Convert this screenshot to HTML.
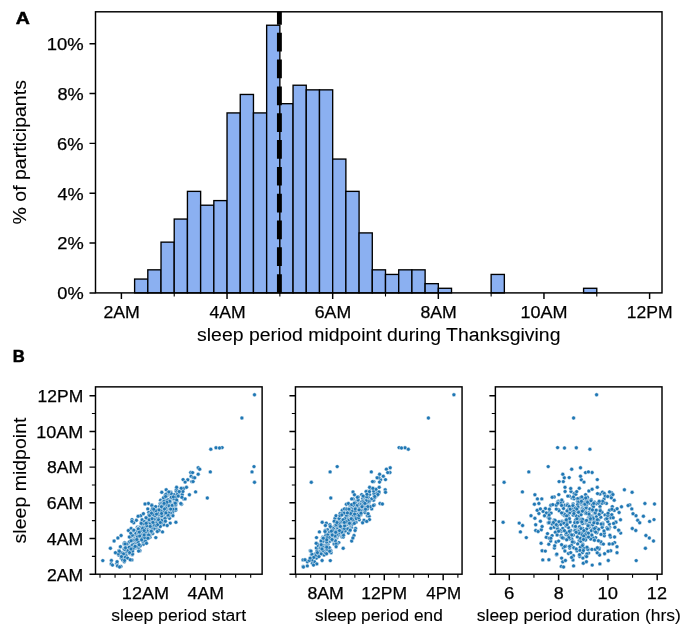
<!DOCTYPE html>
<html><head><meta charset="utf-8"><title>Sleep period midpoint during Thanksgiving</title>
<style>html,body{margin:0;padding:0;background:#fff}body{width:685px;height:624px;overflow:hidden}</style></head>
<body>
<svg width="685" height="624" viewBox="0 0 685 624" style="display:block;will-change:transform;font-family:'Liberation Sans',sans-serif" fill="#000">
<rect width="685" height="624" fill="#fff"/>
<g fill="#8bb0f1" stroke="#000" stroke-width="1.35" stroke-linejoin="miter">
<rect x="134.61" y="279.06" width="13.20" height="13.84"/>
<rect x="147.81" y="269.83" width="13.21" height="23.07"/>
<rect x="161.02" y="242.14" width="13.20" height="50.76"/>
<rect x="174.22" y="219.06" width="13.21" height="73.84"/>
<rect x="187.43" y="191.37" width="13.20" height="101.53"/>
<rect x="200.63" y="205.22" width="13.21" height="87.68"/>
<rect x="213.84" y="200.60" width="13.21" height="92.30"/>
<rect x="227.04" y="112.92" width="13.20" height="179.98"/>
<rect x="240.25" y="94.46" width="13.21" height="198.44"/>
<rect x="253.45" y="112.92" width="13.20" height="179.98"/>
<rect x="266.65" y="25.24" width="13.21" height="267.66"/>
<rect x="279.86" y="103.69" width="13.20" height="189.21"/>
<rect x="293.06" y="85.23" width="13.20" height="207.67"/>
<rect x="306.27" y="89.85" width="13.21" height="203.05"/>
<rect x="319.48" y="89.85" width="13.20" height="203.05"/>
<rect x="332.68" y="159.07" width="13.20" height="133.83"/>
<rect x="345.88" y="191.37" width="13.21" height="101.53"/>
<rect x="359.09" y="232.91" width="13.20" height="59.99"/>
<rect x="372.30" y="269.83" width="13.20" height="23.07"/>
<rect x="385.50" y="274.44" width="13.21" height="18.46"/>
<rect x="398.71" y="269.83" width="13.20" height="23.07"/>
<rect x="411.91" y="269.83" width="13.21" height="23.07"/>
<rect x="425.12" y="283.67" width="13.21" height="9.23"/>
<rect x="438.32" y="288.29" width="13.20" height="4.61"/>
<rect x="491.14" y="274.44" width="13.21" height="18.46"/>
<rect x="583.58" y="288.29" width="13.20" height="4.61"/>
</g>
<line x1="279.4" y1="292.9" x2="279.4" y2="11.8" stroke="#000" stroke-width="4.9" stroke-dasharray="18.72 8.1"/>
<rect x="95.5" y="11.8" width="566.5" height="281.09999999999997" fill="none" stroke="#000" stroke-width="1.45"/>
<path d="M121.40 292.9v6M227.04 292.9v6M332.68 292.9v6M438.32 292.9v6M543.96 292.9v6M649.60 292.9v6M95.5 292.90h-6M95.5 243.06h-6M95.5 193.22h-6M95.5 143.38h-6M95.5 93.54h-6M95.5 43.70h-6" stroke="#000" stroke-width="1.45" fill="none"/>
<path d="M174.22 292.9v3.6M279.86 292.9v3.6M385.50 292.9v3.6M491.14 292.9v3.6M596.78 292.9v3.6" stroke="#000" stroke-width="1.1" fill="none"/>
<text id="tx2AM" x="121.65" y="317.60" font-size="17.3" text-anchor="middle" textLength="36.49" lengthAdjust="spacingAndGlyphs" stroke="#000" stroke-width="0.25">2AM</text>
<text id="tx4AM" x="227.53" y="317.60" font-size="17.3" text-anchor="middle" textLength="36.09" lengthAdjust="spacingAndGlyphs" stroke="#000" stroke-width="0.25">4AM</text>
<text id="tx6AM" x="332.95" y="317.60" font-size="17.3" text-anchor="middle" textLength="36.35" lengthAdjust="spacingAndGlyphs" stroke="#000" stroke-width="0.25">6AM</text>
<text id="tx8AM" x="438.58" y="317.60" font-size="17.3" text-anchor="middle" textLength="36.35" lengthAdjust="spacingAndGlyphs" stroke="#000" stroke-width="0.25">8AM</text>
<text id="tx10AM" x="544.03" y="317.60" font-size="17.3" text-anchor="middle" textLength="47.00" lengthAdjust="spacingAndGlyphs" stroke="#000" stroke-width="0.25">10AM</text>
<text id="tx12PM" x="649.66" y="317.60" font-size="17.3" text-anchor="middle" textLength="45.78" lengthAdjust="spacingAndGlyphs" stroke="#000" stroke-width="0.25">12PM</text>
<text id="ty0" x="83.66" y="299.30" font-size="17.3" text-anchor="end" textLength="26.40" lengthAdjust="spacingAndGlyphs" stroke="#000" stroke-width="0.25">0%</text>
<text id="ty2" x="83.71" y="249.46" font-size="17.3" text-anchor="end" textLength="26.44" lengthAdjust="spacingAndGlyphs" stroke="#000" stroke-width="0.25">2%</text>
<text id="ty4" x="83.61" y="199.62" font-size="17.3" text-anchor="end" textLength="26.20" lengthAdjust="spacingAndGlyphs" stroke="#000" stroke-width="0.25">4%</text>
<text id="ty6" x="83.55" y="149.78" font-size="17.3" text-anchor="end" textLength="26.46" lengthAdjust="spacingAndGlyphs" stroke="#000" stroke-width="0.25">6%</text>
<text id="ty8" x="83.72" y="99.94" font-size="17.3" text-anchor="end" textLength="26.22" lengthAdjust="spacingAndGlyphs" stroke="#000" stroke-width="0.25">8%</text>
<text id="ty10" x="83.76" y="50.10" font-size="17.3" text-anchor="end" textLength="36.94" lengthAdjust="spacingAndGlyphs" stroke="#000" stroke-width="0.25">10%</text>
<text id="xl" x="378.78" y="341.20" font-size="17.6" text-anchor="middle" textLength="363.41" lengthAdjust="spacingAndGlyphs" stroke="#000" stroke-width="0.1">sleep period midpoint during Thanksgiving</text>
<text id="yl" x="26.00" y="152.30" font-size="17.6" text-anchor="middle" textLength="144.48" lengthAdjust="spacingAndGlyphs" stroke="#000" stroke-width="0.1" transform="rotate(-90 26.00 152.30)">% of participants</text>
<text id="A" x="15.73" y="24.40" font-size="17.4" text-anchor="start" textLength="14.11" lengthAdjust="spacingAndGlyphs" font-weight="bold" stroke="#000" stroke-width="0.5">A</text>
<text id="B" x="12.83" y="361.90" font-size="17.4" text-anchor="start" textLength="12.04" lengthAdjust="spacingAndGlyphs" font-weight="bold" stroke="#000" stroke-width="0.5">B</text>
<g fill="#1f77b4" stroke="#fff" stroke-width="0.45">
<circle cx="150.0" cy="537.3" r="1.95"/><circle cx="176.6" cy="501.6" r="1.95"/><circle cx="150.1" cy="514.9" r="1.95"/><circle cx="133.5" cy="535.8" r="1.95"/><circle cx="149.1" cy="522.6" r="1.95"/><circle cx="165.7" cy="503.3" r="1.95"/><circle cx="159.3" cy="521.9" r="1.95"/><circle cx="111.4" cy="560.5" r="1.95"/><circle cx="174.5" cy="508.5" r="1.95"/><circle cx="153.3" cy="529.3" r="1.95"/><circle cx="170.2" cy="523.1" r="1.95"/><circle cx="142.8" cy="525.4" r="1.95"/><circle cx="152.4" cy="528.4" r="1.95"/><circle cx="169.5" cy="518.3" r="1.95"/><circle cx="129.5" cy="553.5" r="1.95"/><circle cx="150.1" cy="523.1" r="1.95"/><circle cx="147.8" cy="508.9" r="1.95"/><circle cx="158.3" cy="522.7" r="1.95"/><circle cx="131.9" cy="559.9" r="1.95"/><circle cx="163.8" cy="507.8" r="1.95"/><circle cx="136.4" cy="520.3" r="1.95"/><circle cx="134.7" cy="537.6" r="1.95"/><circle cx="156.7" cy="522.0" r="1.95"/><circle cx="157.9" cy="521.0" r="1.95"/><circle cx="124.4" cy="555.5" r="1.95"/><circle cx="174.9" cy="501.8" r="1.95"/><circle cx="149.7" cy="514.9" r="1.95"/><circle cx="159.3" cy="524.1" r="1.95"/><circle cx="166.2" cy="489.8" r="1.95"/><circle cx="154.1" cy="516.0" r="1.95"/><circle cx="161.5" cy="509.3" r="1.95"/><circle cx="137.0" cy="536.1" r="1.95"/><circle cx="157.7" cy="516.5" r="1.95"/><circle cx="135.6" cy="545.1" r="1.95"/><circle cx="127.9" cy="543.5" r="1.95"/><circle cx="175.3" cy="498.0" r="1.95"/><circle cx="176.6" cy="501.3" r="1.95"/><circle cx="183.1" cy="479.6" r="1.95"/><circle cx="167.1" cy="504.1" r="1.95"/><circle cx="158.5" cy="522.9" r="1.95"/><circle cx="159.7" cy="517.6" r="1.95"/><circle cx="124.6" cy="548.1" r="1.95"/><circle cx="134.9" cy="538.2" r="1.95"/><circle cx="116.8" cy="563.2" r="1.95"/><circle cx="152.7" cy="533.6" r="1.95"/><circle cx="171.4" cy="505.2" r="1.95"/><circle cx="119.6" cy="554.1" r="1.95"/><circle cx="147.2" cy="519.1" r="1.95"/><circle cx="172.3" cy="513.5" r="1.95"/><circle cx="152.0" cy="521.5" r="1.95"/><circle cx="161.5" cy="510.9" r="1.95"/><circle cx="141.3" cy="533.5" r="1.95"/><circle cx="167.2" cy="504.2" r="1.95"/><circle cx="167.9" cy="500.4" r="1.95"/><circle cx="139.2" cy="531.7" r="1.95"/><circle cx="157.9" cy="529.8" r="1.95"/><circle cx="164.8" cy="513.8" r="1.95"/><circle cx="170.0" cy="494.1" r="1.95"/><circle cx="172.0" cy="505.5" r="1.95"/><circle cx="187.8" cy="479.8" r="1.95"/><circle cx="172.9" cy="511.4" r="1.95"/><circle cx="172.8" cy="498.1" r="1.95"/><circle cx="146.4" cy="528.4" r="1.95"/><circle cx="155.8" cy="513.0" r="1.95"/><circle cx="170.9" cy="492.1" r="1.95"/><circle cx="143.9" cy="538.2" r="1.95"/><circle cx="181.5" cy="504.2" r="1.95"/><circle cx="174.0" cy="505.2" r="1.95"/><circle cx="141.3" cy="527.3" r="1.95"/><circle cx="138.9" cy="537.5" r="1.95"/><circle cx="160.6" cy="500.2" r="1.95"/><circle cx="140.9" cy="529.2" r="1.95"/><circle cx="150.6" cy="531.2" r="1.95"/><circle cx="170.0" cy="512.5" r="1.95"/><circle cx="142.2" cy="533.5" r="1.95"/><circle cx="165.6" cy="495.2" r="1.95"/><circle cx="151.5" cy="518.7" r="1.95"/><circle cx="171.2" cy="498.7" r="1.95"/><circle cx="152.1" cy="516.7" r="1.95"/><circle cx="161.8" cy="492.3" r="1.95"/><circle cx="137.4" cy="527.3" r="1.95"/><circle cx="144.5" cy="523.3" r="1.95"/><circle cx="151.6" cy="530.9" r="1.95"/><circle cx="140.8" cy="515.7" r="1.95"/><circle cx="164.7" cy="498.9" r="1.95"/><circle cx="146.6" cy="529.8" r="1.95"/><circle cx="114.1" cy="541.0" r="1.95"/><circle cx="137.1" cy="540.7" r="1.95"/><circle cx="254.5" cy="482.3" r="1.95"/><circle cx="159.6" cy="506.5" r="1.95"/><circle cx="141.7" cy="521.9" r="1.95"/><circle cx="137.9" cy="537.5" r="1.95"/><circle cx="146.0" cy="533.3" r="1.95"/><circle cx="153.1" cy="522.6" r="1.95"/><circle cx="158.2" cy="521.9" r="1.95"/><circle cx="147.3" cy="517.9" r="1.95"/><circle cx="168.1" cy="494.7" r="1.95"/><circle cx="175.3" cy="502.5" r="1.95"/><circle cx="153.5" cy="510.2" r="1.95"/><circle cx="138.1" cy="537.9" r="1.95"/><circle cx="161.6" cy="510.5" r="1.95"/><circle cx="135.8" cy="547.9" r="1.95"/><circle cx="143.8" cy="524.1" r="1.95"/><circle cx="178.4" cy="493.5" r="1.95"/><circle cx="127.1" cy="549.1" r="1.95"/><circle cx="161.6" cy="506.7" r="1.95"/><circle cx="140.0" cy="536.0" r="1.95"/><circle cx="155.2" cy="519.7" r="1.95"/><circle cx="135.7" cy="534.4" r="1.95"/><circle cx="146.6" cy="535.9" r="1.95"/><circle cx="210.8" cy="449.2" r="1.95"/><circle cx="148.7" cy="519.9" r="1.95"/><circle cx="139.5" cy="540.3" r="1.95"/><circle cx="164.7" cy="502.3" r="1.95"/><circle cx="175.6" cy="510.3" r="1.95"/><circle cx="143.0" cy="528.7" r="1.95"/><circle cx="143.4" cy="544.2" r="1.95"/><circle cx="136.0" cy="541.4" r="1.95"/><circle cx="168.4" cy="503.2" r="1.95"/><circle cx="147.1" cy="525.3" r="1.95"/><circle cx="150.4" cy="523.4" r="1.95"/><circle cx="143.6" cy="535.0" r="1.95"/><circle cx="163.8" cy="524.8" r="1.95"/><circle cx="139.1" cy="527.3" r="1.95"/><circle cx="152.3" cy="521.1" r="1.95"/><circle cx="130.6" cy="537.0" r="1.95"/><circle cx="139.5" cy="527.8" r="1.95"/><circle cx="151.5" cy="532.2" r="1.95"/><circle cx="139.5" cy="534.7" r="1.95"/><circle cx="158.5" cy="510.7" r="1.95"/><circle cx="164.7" cy="496.3" r="1.95"/><circle cx="152.8" cy="521.5" r="1.95"/><circle cx="191.1" cy="476.2" r="1.95"/><circle cx="159.2" cy="515.7" r="1.95"/><circle cx="151.8" cy="504.9" r="1.95"/><circle cx="160.2" cy="503.4" r="1.95"/><circle cx="143.9" cy="530.2" r="1.95"/><circle cx="254.5" cy="394.8" r="1.95"/><circle cx="158.4" cy="522.3" r="1.95"/><circle cx="165.9" cy="507.6" r="1.95"/><circle cx="135.8" cy="533.1" r="1.95"/><circle cx="143.6" cy="533.3" r="1.95"/><circle cx="146.3" cy="534.5" r="1.95"/><circle cx="148.2" cy="528.8" r="1.95"/><circle cx="147.9" cy="524.8" r="1.95"/><circle cx="123.7" cy="553.1" r="1.95"/><circle cx="123.5" cy="556.5" r="1.95"/><circle cx="153.4" cy="526.1" r="1.95"/><circle cx="163.7" cy="506.5" r="1.95"/><circle cx="122.0" cy="556.2" r="1.95"/><circle cx="118.7" cy="555.1" r="1.95"/><circle cx="154.2" cy="521.9" r="1.95"/><circle cx="167.7" cy="492.7" r="1.95"/><circle cx="148.4" cy="503.5" r="1.95"/><circle cx="169.6" cy="509.6" r="1.95"/><circle cx="141.9" cy="524.1" r="1.95"/><circle cx="162.2" cy="519.9" r="1.95"/><circle cx="144.6" cy="535.7" r="1.95"/><circle cx="148.3" cy="530.4" r="1.95"/><circle cx="164.2" cy="514.4" r="1.95"/><circle cx="185.1" cy="482.1" r="1.95"/><circle cx="147.7" cy="532.8" r="1.95"/><circle cx="138.8" cy="538.2" r="1.95"/><circle cx="181.1" cy="491.5" r="1.95"/><circle cx="168.4" cy="510.8" r="1.95"/><circle cx="150.9" cy="523.1" r="1.95"/><circle cx="146.3" cy="524.9" r="1.95"/><circle cx="177.7" cy="496.1" r="1.95"/><circle cx="127.1" cy="549.4" r="1.95"/><circle cx="164.4" cy="511.0" r="1.95"/><circle cx="120.9" cy="566.4" r="1.95"/><circle cx="148.4" cy="528.3" r="1.95"/><circle cx="141.4" cy="522.3" r="1.95"/><circle cx="160.5" cy="515.1" r="1.95"/><circle cx="169.3" cy="493.5" r="1.95"/><circle cx="175.8" cy="508.9" r="1.95"/><circle cx="127.8" cy="543.4" r="1.95"/><circle cx="163.8" cy="512.8" r="1.95"/><circle cx="138.1" cy="516.2" r="1.95"/><circle cx="140.8" cy="536.9" r="1.95"/><circle cx="138.5" cy="548.0" r="1.95"/><circle cx="143.2" cy="527.4" r="1.95"/><circle cx="174.0" cy="494.6" r="1.95"/><circle cx="142.8" cy="532.6" r="1.95"/><circle cx="126.0" cy="552.6" r="1.95"/><circle cx="169.3" cy="499.7" r="1.95"/><circle cx="181.6" cy="497.0" r="1.95"/><circle cx="168.8" cy="500.5" r="1.95"/><circle cx="129.5" cy="541.8" r="1.95"/><circle cx="141.0" cy="538.8" r="1.95"/><circle cx="147.7" cy="527.8" r="1.95"/><circle cx="183.7" cy="488.5" r="1.95"/><circle cx="124.0" cy="549.0" r="1.95"/><circle cx="146.7" cy="517.8" r="1.95"/><circle cx="169.9" cy="504.0" r="1.95"/><circle cx="165.3" cy="513.1" r="1.95"/><circle cx="166.7" cy="496.1" r="1.95"/><circle cx="162.9" cy="515.5" r="1.95"/><circle cx="137.2" cy="538.1" r="1.95"/><circle cx="175.9" cy="522.3" r="1.95"/><circle cx="153.9" cy="517.3" r="1.95"/><circle cx="171.3" cy="504.3" r="1.95"/><circle cx="198.2" cy="467.8" r="1.95"/><circle cx="167.8" cy="502.4" r="1.95"/><circle cx="137.0" cy="539.3" r="1.95"/><circle cx="173.0" cy="498.7" r="1.95"/><circle cx="155.4" cy="513.2" r="1.95"/><circle cx="158.2" cy="519.7" r="1.95"/><circle cx="134.8" cy="543.9" r="1.95"/><circle cx="162.5" cy="531.9" r="1.95"/><circle cx="222.1" cy="447.6" r="1.95"/><circle cx="195.6" cy="491.9" r="1.95"/><circle cx="166.8" cy="509.3" r="1.95"/><circle cx="146.9" cy="535.5" r="1.95"/><circle cx="153.5" cy="513.9" r="1.95"/><circle cx="155.6" cy="523.0" r="1.95"/><circle cx="166.5" cy="508.3" r="1.95"/><circle cx="150.0" cy="530.7" r="1.95"/><circle cx="129.1" cy="550.9" r="1.95"/><circle cx="140.3" cy="545.8" r="1.95"/><circle cx="135.0" cy="539.0" r="1.95"/><circle cx="129.3" cy="548.2" r="1.95"/><circle cx="141.9" cy="532.3" r="1.95"/><circle cx="129.3" cy="537.0" r="1.95"/><circle cx="131.2" cy="547.2" r="1.95"/><circle cx="124.6" cy="542.6" r="1.95"/><circle cx="162.6" cy="502.5" r="1.95"/><circle cx="153.0" cy="523.1" r="1.95"/><circle cx="138.0" cy="535.0" r="1.95"/><circle cx="158.7" cy="521.3" r="1.95"/><circle cx="163.5" cy="512.9" r="1.95"/><circle cx="152.7" cy="506.8" r="1.95"/><circle cx="132.9" cy="544.3" r="1.95"/><circle cx="161.7" cy="522.7" r="1.95"/><circle cx="216.0" cy="447.8" r="1.95"/><circle cx="117.1" cy="561.7" r="1.95"/><circle cx="124.1" cy="543.9" r="1.95"/><circle cx="111.2" cy="563.9" r="1.95"/><circle cx="154.6" cy="519.4" r="1.95"/><circle cx="148.6" cy="526.8" r="1.95"/><circle cx="112.5" cy="565.1" r="1.95"/><circle cx="156.2" cy="528.2" r="1.95"/><circle cx="125.1" cy="554.7" r="1.95"/><circle cx="172.9" cy="515.7" r="1.95"/><circle cx="121.2" cy="558.1" r="1.95"/><circle cx="168.1" cy="506.0" r="1.95"/><circle cx="126.1" cy="555.8" r="1.95"/><circle cx="132.0" cy="545.5" r="1.95"/><circle cx="126.8" cy="544.1" r="1.95"/><circle cx="142.1" cy="519.8" r="1.95"/><circle cx="146.0" cy="530.0" r="1.95"/><circle cx="141.8" cy="530.7" r="1.95"/><circle cx="128.8" cy="550.2" r="1.95"/><circle cx="132.2" cy="554.7" r="1.95"/><circle cx="166.2" cy="517.4" r="1.95"/><circle cx="155.7" cy="512.7" r="1.95"/><circle cx="162.3" cy="521.6" r="1.95"/><circle cx="166.9" cy="503.9" r="1.95"/><circle cx="137.3" cy="537.0" r="1.95"/><circle cx="174.0" cy="498.8" r="1.95"/><circle cx="167.9" cy="499.7" r="1.95"/><circle cx="132.8" cy="540.2" r="1.95"/><circle cx="199.7" cy="469.2" r="1.95"/><circle cx="131.1" cy="540.8" r="1.95"/><circle cx="146.7" cy="530.2" r="1.95"/><circle cx="148.7" cy="512.5" r="1.95"/><circle cx="136.4" cy="546.3" r="1.95"/><circle cx="166.4" cy="509.3" r="1.95"/><circle cx="156.5" cy="510.0" r="1.95"/><circle cx="157.8" cy="512.7" r="1.95"/><circle cx="163.5" cy="514.5" r="1.95"/><circle cx="161.5" cy="522.7" r="1.95"/><circle cx="155.7" cy="519.9" r="1.95"/><circle cx="171.2" cy="493.6" r="1.95"/><circle cx="174.5" cy="503.0" r="1.95"/><circle cx="151.3" cy="518.8" r="1.95"/><circle cx="139.9" cy="550.8" r="1.95"/><circle cx="162.9" cy="503.7" r="1.95"/><circle cx="121.4" cy="552.8" r="1.95"/><circle cx="155.6" cy="522.0" r="1.95"/><circle cx="219.5" cy="448.0" r="1.95"/><circle cx="131.1" cy="528.5" r="1.95"/><circle cx="151.0" cy="514.9" r="1.95"/><circle cx="125.1" cy="544.0" r="1.95"/><circle cx="143.0" cy="542.0" r="1.95"/><circle cx="144.4" cy="521.6" r="1.95"/><circle cx="128.4" cy="530.5" r="1.95"/><circle cx="175.3" cy="505.7" r="1.95"/><circle cx="156.1" cy="527.2" r="1.95"/><circle cx="162.0" cy="509.2" r="1.95"/><circle cx="145.8" cy="530.5" r="1.95"/><circle cx="158.1" cy="523.0" r="1.95"/><circle cx="147.7" cy="517.9" r="1.95"/><circle cx="141.5" cy="538.9" r="1.95"/><circle cx="241.9" cy="418.0" r="1.95"/><circle cx="145.2" cy="531.1" r="1.95"/><circle cx="154.4" cy="519.3" r="1.95"/><circle cx="117.5" cy="565.9" r="1.95"/><circle cx="157.6" cy="510.2" r="1.95"/><circle cx="165.1" cy="508.2" r="1.95"/><circle cx="118.3" cy="553.7" r="1.95"/><circle cx="175.7" cy="505.1" r="1.95"/><circle cx="146.7" cy="528.6" r="1.95"/><circle cx="150.8" cy="519.2" r="1.95"/><circle cx="144.4" cy="524.0" r="1.95"/><circle cx="191.8" cy="481.6" r="1.95"/><circle cx="152.6" cy="517.3" r="1.95"/><circle cx="158.1" cy="522.2" r="1.95"/><circle cx="167.4" cy="503.2" r="1.95"/><circle cx="183.8" cy="498.9" r="1.95"/><circle cx="125.8" cy="549.4" r="1.95"/><circle cx="149.6" cy="535.6" r="1.95"/><circle cx="143.4" cy="513.7" r="1.95"/><circle cx="186.5" cy="487.3" r="1.95"/><circle cx="151.4" cy="525.9" r="1.95"/><circle cx="161.8" cy="515.5" r="1.95"/><circle cx="151.6" cy="522.2" r="1.95"/><circle cx="136.5" cy="546.6" r="1.95"/><circle cx="148.0" cy="531.3" r="1.95"/><circle cx="171.3" cy="497.2" r="1.95"/><circle cx="158.2" cy="513.4" r="1.95"/><circle cx="151.9" cy="510.4" r="1.95"/><circle cx="138.4" cy="532.8" r="1.95"/><circle cx="162.4" cy="502.5" r="1.95"/><circle cx="153.7" cy="517.3" r="1.95"/><circle cx="164.8" cy="518.5" r="1.95"/><circle cx="158.9" cy="512.5" r="1.95"/><circle cx="161.6" cy="520.4" r="1.95"/><circle cx="121.1" cy="535.5" r="1.95"/><circle cx="162.8" cy="511.2" r="1.95"/><circle cx="137.3" cy="542.3" r="1.95"/><circle cx="132.6" cy="554.1" r="1.95"/><circle cx="159.8" cy="509.5" r="1.95"/><circle cx="110.4" cy="548.3" r="1.95"/><circle cx="154.0" cy="528.5" r="1.95"/><circle cx="170.5" cy="505.4" r="1.95"/><circle cx="159.2" cy="521.8" r="1.95"/><circle cx="175.8" cy="496.9" r="1.95"/><circle cx="153.6" cy="522.6" r="1.95"/><circle cx="122.7" cy="560.0" r="1.95"/><circle cx="161.7" cy="502.6" r="1.95"/><circle cx="146.8" cy="530.7" r="1.95"/><circle cx="165.0" cy="518.5" r="1.95"/><circle cx="168.9" cy="491.9" r="1.95"/><circle cx="163.5" cy="508.2" r="1.95"/><circle cx="132.8" cy="547.7" r="1.95"/><circle cx="185.1" cy="498.9" r="1.95"/><circle cx="154.0" cy="512.3" r="1.95"/><circle cx="168.7" cy="502.6" r="1.95"/><circle cx="132.0" cy="519.6" r="1.95"/><circle cx="173.3" cy="496.9" r="1.95"/><circle cx="160.7" cy="508.9" r="1.95"/><circle cx="145.3" cy="537.3" r="1.95"/><circle cx="132.7" cy="551.0" r="1.95"/><circle cx="151.8" cy="505.5" r="1.95"/><circle cx="140.7" cy="533.1" r="1.95"/><circle cx="162.5" cy="509.3" r="1.95"/><circle cx="119.6" cy="567.0" r="1.95"/><circle cx="127.5" cy="550.5" r="1.95"/><circle cx="170.4" cy="501.8" r="1.95"/><circle cx="115.4" cy="552.7" r="1.95"/><circle cx="144.8" cy="531.7" r="1.95"/><circle cx="182.2" cy="494.6" r="1.95"/><circle cx="151.6" cy="530.4" r="1.95"/><circle cx="169.1" cy="508.5" r="1.95"/><circle cx="148.6" cy="535.0" r="1.95"/><circle cx="161.8" cy="515.9" r="1.95"/><circle cx="125.3" cy="557.4" r="1.95"/><circle cx="190.7" cy="472.5" r="1.95"/><circle cx="158.3" cy="514.8" r="1.95"/><circle cx="150.3" cy="519.8" r="1.95"/><circle cx="166.8" cy="503.0" r="1.95"/><circle cx="170.5" cy="513.0" r="1.95"/><circle cx="156.2" cy="524.6" r="1.95"/><circle cx="189.4" cy="494.8" r="1.95"/><circle cx="132.3" cy="535.2" r="1.95"/><circle cx="169.0" cy="506.4" r="1.95"/><circle cx="162.0" cy="511.4" r="1.95"/><circle cx="169.7" cy="502.2" r="1.95"/><circle cx="182.9" cy="491.5" r="1.95"/><circle cx="145.5" cy="527.2" r="1.95"/><circle cx="124.3" cy="561.8" r="1.95"/><circle cx="124.8" cy="549.4" r="1.95"/><circle cx="123.5" cy="553.9" r="1.95"/><circle cx="207.3" cy="498.0" r="1.95"/><circle cx="161.7" cy="503.2" r="1.95"/><circle cx="162.8" cy="507.8" r="1.95"/><circle cx="166.4" cy="509.2" r="1.95"/><circle cx="156.3" cy="518.8" r="1.95"/><circle cx="165.9" cy="510.9" r="1.95"/><circle cx="167.9" cy="504.8" r="1.95"/><circle cx="158.6" cy="518.7" r="1.95"/><circle cx="180.8" cy="503.5" r="1.95"/><circle cx="176.7" cy="500.0" r="1.95"/><circle cx="163.2" cy="501.2" r="1.95"/><circle cx="165.4" cy="521.2" r="1.95"/><circle cx="143.0" cy="541.1" r="1.95"/><circle cx="162.9" cy="503.1" r="1.95"/><circle cx="177.3" cy="494.3" r="1.95"/><circle cx="138.1" cy="528.7" r="1.95"/><circle cx="254.0" cy="466.6" r="1.95"/><circle cx="168.9" cy="513.1" r="1.95"/><circle cx="124.6" cy="560.5" r="1.95"/><circle cx="165.2" cy="504.7" r="1.95"/><circle cx="102.8" cy="560.6" r="1.95"/><circle cx="143.2" cy="533.3" r="1.95"/><circle cx="135.7" cy="540.0" r="1.95"/><circle cx="147.7" cy="522.0" r="1.95"/><circle cx="121.4" cy="556.6" r="1.95"/><circle cx="125.5" cy="547.8" r="1.95"/><circle cx="154.7" cy="515.9" r="1.95"/><circle cx="157.8" cy="513.4" r="1.95"/><circle cx="181.9" cy="497.3" r="1.95"/><circle cx="193.1" cy="481.6" r="1.95"/><circle cx="151.1" cy="523.0" r="1.95"/><circle cx="163.5" cy="497.8" r="1.95"/><circle cx="138.1" cy="528.9" r="1.95"/><circle cx="144.7" cy="528.9" r="1.95"/><circle cx="157.0" cy="521.7" r="1.95"/><circle cx="154.0" cy="519.4" r="1.95"/><circle cx="159.0" cy="530.5" r="1.95"/><circle cx="133.7" cy="548.1" r="1.95"/><circle cx="164.2" cy="501.3" r="1.95"/><circle cx="165.9" cy="506.9" r="1.95"/><circle cx="145.5" cy="541.0" r="1.95"/><circle cx="176.1" cy="491.0" r="1.95"/><circle cx="156.9" cy="525.5" r="1.95"/><circle cx="141.1" cy="534.8" r="1.95"/><circle cx="137.8" cy="530.9" r="1.95"/><circle cx="151.5" cy="527.5" r="1.95"/><circle cx="150.2" cy="526.6" r="1.95"/><circle cx="156.4" cy="523.3" r="1.95"/><circle cx="142.8" cy="537.6" r="1.95"/><circle cx="150.3" cy="517.2" r="1.95"/><circle cx="168.6" cy="505.6" r="1.95"/><circle cx="158.6" cy="519.8" r="1.95"/><circle cx="161.4" cy="512.2" r="1.95"/><circle cx="151.5" cy="518.5" r="1.95"/><circle cx="141.2" cy="523.4" r="1.95"/><circle cx="166.1" cy="504.2" r="1.95"/><circle cx="118.9" cy="550.8" r="1.95"/><circle cx="144.6" cy="537.8" r="1.95"/><circle cx="153.1" cy="514.4" r="1.95"/><circle cx="147.7" cy="522.8" r="1.95"/><circle cx="192.6" cy="472.6" r="1.95"/><circle cx="161.8" cy="509.9" r="1.95"/><circle cx="145.0" cy="504.0" r="1.95"/><circle cx="151.2" cy="519.9" r="1.95"/><circle cx="176.5" cy="489.2" r="1.95"/><circle cx="163.6" cy="511.1" r="1.95"/><circle cx="140.6" cy="530.9" r="1.95"/><circle cx="155.8" cy="537.6" r="1.95"/><circle cx="165.8" cy="494.5" r="1.95"/><circle cx="147.3" cy="518.6" r="1.95"/><circle cx="138.6" cy="551.1" r="1.95"/><circle cx="157.3" cy="531.5" r="1.95"/><circle cx="167.1" cy="500.8" r="1.95"/><circle cx="149.0" cy="514.7" r="1.95"/><circle cx="181.2" cy="488.3" r="1.95"/><circle cx="169.7" cy="501.3" r="1.95"/><circle cx="155.9" cy="510.8" r="1.95"/><circle cx="168.8" cy="515.7" r="1.95"/><circle cx="160.3" cy="526.5" r="1.95"/><circle cx="133.7" cy="522.8" r="1.95"/><circle cx="153.7" cy="525.7" r="1.95"/><circle cx="117.9" cy="538.0" r="1.95"/><circle cx="151.9" cy="520.4" r="1.95"/><circle cx="127.7" cy="558.1" r="1.95"/><circle cx="131.9" cy="521.4" r="1.95"/><circle cx="172.2" cy="505.4" r="1.95"/><circle cx="140.3" cy="534.8" r="1.95"/><circle cx="142.6" cy="528.5" r="1.95"/><circle cx="193.3" cy="477.6" r="1.95"/><circle cx="194.7" cy="477.8" r="1.95"/><circle cx="165.8" cy="508.1" r="1.95"/><circle cx="167.9" cy="515.0" r="1.95"/><circle cx="148.3" cy="538.2" r="1.95"/><circle cx="154.3" cy="524.7" r="1.95"/><circle cx="156.5" cy="525.6" r="1.95"/><circle cx="147.0" cy="525.4" r="1.95"/><circle cx="130.8" cy="533.1" r="1.95"/><circle cx="163.1" cy="505.1" r="1.95"/><circle cx="150.5" cy="523.5" r="1.95"/><circle cx="161.0" cy="511.1" r="1.95"/><circle cx="179.2" cy="491.6" r="1.95"/><circle cx="161.4" cy="506.7" r="1.95"/><circle cx="138.1" cy="541.9" r="1.95"/><circle cx="175.6" cy="504.6" r="1.95"/><circle cx="135.1" cy="546.4" r="1.95"/><circle cx="164.5" cy="509.0" r="1.95"/><circle cx="156.5" cy="514.1" r="1.95"/><circle cx="120.4" cy="546.7" r="1.95"/><circle cx="165.6" cy="496.5" r="1.95"/><circle cx="161.6" cy="513.5" r="1.95"/><circle cx="152.5" cy="508.7" r="1.95"/><circle cx="167.2" cy="525.5" r="1.95"/><circle cx="166.9" cy="502.3" r="1.95"/><circle cx="139.1" cy="544.7" r="1.95"/><circle cx="157.7" cy="524.6" r="1.95"/><circle cx="155.7" cy="506.6" r="1.95"/><circle cx="172.8" cy="509.2" r="1.95"/><circle cx="210.3" cy="471.9" r="1.95"/><circle cx="170.7" cy="509.1" r="1.95"/><circle cx="176.6" cy="487.3" r="1.95"/><circle cx="146.9" cy="525.8" r="1.95"/><circle cx="152.2" cy="521.8" r="1.95"/><circle cx="141.6" cy="539.8" r="1.95"/><circle cx="139.7" cy="536.0" r="1.95"/><circle cx="149.2" cy="519.7" r="1.95"/><circle cx="252.0" cy="471.9" r="1.95"/><circle cx="153.0" cy="522.4" r="1.95"/><circle cx="138.3" cy="528.9" r="1.95"/><circle cx="152.1" cy="518.7" r="1.95"/><circle cx="146.0" cy="517.8" r="1.95"/><circle cx="150.2" cy="526.4" r="1.95"/><circle cx="133.3" cy="530.8" r="1.95"/><circle cx="149.6" cy="515.4" r="1.95"/><circle cx="119.4" cy="551.2" r="1.95"/><circle cx="159.0" cy="509.9" r="1.95"/><circle cx="175.3" cy="503.2" r="1.95"/><circle cx="153.7" cy="509.2" r="1.95"/><circle cx="151.5" cy="513.2" r="1.95"/><circle cx="139.3" cy="532.1" r="1.95"/><circle cx="178.2" cy="496.1" r="1.95"/><circle cx="145.1" cy="532.3" r="1.95"/><circle cx="129.6" cy="552.6" r="1.95"/><circle cx="164.1" cy="503.4" r="1.95"/><circle cx="151.3" cy="531.2" r="1.95"/><circle cx="144.1" cy="535.0" r="1.95"/><circle cx="129.2" cy="547.2" r="1.95"/><circle cx="133.9" cy="530.1" r="1.95"/><circle cx="136.8" cy="539.5" r="1.95"/><circle cx="130.2" cy="559.8" r="1.95"/><circle cx="131.0" cy="549.0" r="1.95"/><circle cx="146.2" cy="523.3" r="1.95"/><circle cx="165.9" cy="512.9" r="1.95"/><circle cx="144.1" cy="530.6" r="1.95"/><circle cx="146.5" cy="543.3" r="1.95"/><circle cx="198.2" cy="474.2" r="1.95"/><circle cx="147.9" cy="538.2" r="1.95"/><circle cx="160.3" cy="522.5" r="1.95"/>
</g>
<rect x="95.5" y="386.86" width="166.62" height="187.34" fill="none" stroke="#000" stroke-width="1.45"/>
<path d="M95.5 574.20h-6M95.5 538.50h-6M95.5 502.80h-6M95.5 467.10h-6M95.5 431.40h-6M95.5 395.70h-6M145.20 574.2v6M205.48 574.2v6" stroke="#000" stroke-width="1.45" fill="none"/>
<path d="M95.5 556.35h-3.6M95.5 520.65h-3.6M95.5 484.95h-3.6M95.5 449.25h-3.6M95.5 413.55h-3.6M99.99 574.2v3.6M115.06 574.2v3.6M130.13 574.2v3.6M160.27 574.2v3.6M175.34 574.2v3.6M190.41 574.2v3.6M220.55 574.2v3.6M235.62 574.2v3.6M250.69 574.2v3.6" stroke="#000" stroke-width="1.1" fill="none"/>
<g fill="#1f77b4" stroke="#fff" stroke-width="0.45">
<circle cx="322.7" cy="537.3" r="1.95"/><circle cx="355.6" cy="501.6" r="1.95"/><circle cx="359.5" cy="514.9" r="1.95"/><circle cx="341.3" cy="535.8" r="1.95"/><circle cx="347.7" cy="522.6" r="1.95"/><circle cx="363.4" cy="503.3" r="1.95"/><circle cx="338.9" cy="521.9" r="1.95"/><circle cx="322.1" cy="560.5" r="1.95"/><circle cx="346.2" cy="508.5" r="1.95"/><circle cx="332.7" cy="529.3" r="1.95"/><circle cx="326.3" cy="523.1" r="1.95"/><circle cx="349.3" cy="525.4" r="1.95"/><circle cx="334.9" cy="528.4" r="1.95"/><circle cx="335.0" cy="518.3" r="1.95"/><circle cx="315.9" cy="553.5" r="1.95"/><circle cx="346.0" cy="523.1" r="1.95"/><circle cx="371.7" cy="508.9" r="1.95"/><circle cx="338.7" cy="522.7" r="1.95"/><circle cx="303.0" cy="559.9" r="1.95"/><circle cx="357.8" cy="507.8" r="1.95"/><circle cx="364.0" cy="520.3" r="1.95"/><circle cx="337.2" cy="537.6" r="1.95"/><circle cx="341.4" cy="522.0" r="1.95"/><circle cx="341.9" cy="521.0" r="1.95"/><circle cx="317.6" cy="555.5" r="1.95"/><circle cx="356.9" cy="501.8" r="1.95"/><circle cx="359.9" cy="514.9" r="1.95"/><circle cx="335.3" cy="524.1" r="1.95"/><circle cx="385.2" cy="489.8" r="1.95"/><circle cx="353.8" cy="516.0" r="1.95"/><circle cx="357.6" cy="509.3" r="1.95"/><circle cx="337.4" cy="536.1" r="1.95"/><circle cx="349.5" cy="516.5" r="1.95"/><circle cx="323.8" cy="545.1" r="1.95"/><circle cx="334.0" cy="543.5" r="1.95"/><circle cx="362.8" cy="498.0" r="1.95"/><circle cx="356.1" cy="501.3" r="1.95"/><circle cx="385.5" cy="479.6" r="1.95"/><circle cx="360.8" cy="504.1" r="1.95"/><circle cx="338.2" cy="522.9" r="1.95"/><circle cx="345.8" cy="517.6" r="1.95"/><circle cx="329.6" cy="548.1" r="1.95"/><circle cx="336.0" cy="538.2" r="1.95"/><circle cx="312.4" cy="563.2" r="1.95"/><circle cx="326.1" cy="533.6" r="1.95"/><circle cx="354.7" cy="505.2" r="1.95"/><circle cx="324.7" cy="554.1" r="1.95"/><circle cx="355.5" cy="519.1" r="1.95"/><circle cx="340.1" cy="513.5" r="1.95"/><circle cx="346.7" cy="521.5" r="1.95"/><circle cx="355.0" cy="510.9" r="1.95"/><circle cx="337.5" cy="533.5" r="1.95"/><circle cx="360.5" cy="504.2" r="1.95"/><circle cx="366.2" cy="500.4" r="1.95"/><circle cx="342.6" cy="531.7" r="1.95"/><circle cx="327.5" cy="529.8" r="1.95"/><circle cx="347.1" cy="513.8" r="1.95"/><circle cx="374.3" cy="494.1" r="1.95"/><circle cx="353.6" cy="505.5" r="1.95"/><circle cx="380.6" cy="479.8" r="1.95"/><circle cx="343.1" cy="511.4" r="1.95"/><circle cx="365.0" cy="498.1" r="1.95"/><circle cx="340.9" cy="528.4" r="1.95"/><circle cx="357.1" cy="513.0" r="1.95"/><circle cx="376.8" cy="492.1" r="1.95"/><circle cx="327.1" cy="538.2" r="1.95"/><circle cx="346.4" cy="504.2" r="1.95"/><circle cx="352.2" cy="505.2" r="1.95"/><circle cx="347.7" cy="527.3" r="1.95"/><circle cx="333.2" cy="537.5" r="1.95"/><circle cx="373.6" cy="500.2" r="1.95"/><circle cx="345.0" cy="529.2" r="1.95"/><circle cx="332.2" cy="531.2" r="1.95"/><circle cx="344.1" cy="512.5" r="1.95"/><circle cx="336.7" cy="533.5" r="1.95"/><circle cx="376.8" cy="495.2" r="1.95"/><circle cx="351.9" cy="518.7" r="1.95"/><circle cx="365.7" cy="498.7" r="1.95"/><circle cx="354.7" cy="516.7" r="1.95"/><circle cx="385.5" cy="492.3" r="1.95"/><circle cx="351.4" cy="527.3" r="1.95"/><circle cx="351.2" cy="523.3" r="1.95"/><circle cx="331.6" cy="530.9" r="1.95"/><circle cx="367.4" cy="515.7" r="1.95"/><circle cx="371.6" cy="498.9" r="1.95"/><circle cx="338.4" cy="529.8" r="1.95"/><circle cx="351.7" cy="541.0" r="1.95"/><circle cx="329.8" cy="540.7" r="1.95"/><circle cx="311.3" cy="482.3" r="1.95"/><circle cx="364.2" cy="506.5" r="1.95"/><circle cx="356.2" cy="521.9" r="1.95"/><circle cx="334.1" cy="537.5" r="1.95"/><circle cx="333.1" cy="533.3" r="1.95"/><circle cx="343.9" cy="522.6" r="1.95"/><circle cx="340.0" cy="521.9" r="1.95"/><circle cx="357.3" cy="517.9" r="1.95"/><circle cx="375.3" cy="494.7" r="1.95"/><circle cx="355.3" cy="502.5" r="1.95"/><circle cx="363.9" cy="510.2" r="1.95"/><circle cx="333.4" cy="537.9" r="1.95"/><circle cx="355.5" cy="510.5" r="1.95"/><circle cx="319.1" cy="547.9" r="1.95"/><circle cx="350.4" cy="524.1" r="1.95"/><circle cx="367.2" cy="493.5" r="1.95"/><circle cx="325.7" cy="549.1" r="1.95"/><circle cx="361.9" cy="506.7" r="1.95"/><circle cx="334.6" cy="536.0" r="1.95"/><circle cx="346.7" cy="519.7" r="1.95"/><circle cx="341.5" cy="534.4" r="1.95"/><circle cx="328.4" cy="535.9" r="1.95"/><circle cx="408.3" cy="449.2" r="1.95"/><circle cx="352.7" cy="519.9" r="1.95"/><circle cx="328.0" cy="540.3" r="1.95"/><circle cx="366.0" cy="502.3" r="1.95"/><circle cx="342.3" cy="510.3" r="1.95"/><circle cx="343.8" cy="528.7" r="1.95"/><circle cx="317.8" cy="544.2" r="1.95"/><circle cx="329.6" cy="541.4" r="1.95"/><circle cx="360.9" cy="503.2" r="1.95"/><circle cx="345.3" cy="525.3" r="1.95"/><circle cx="345.2" cy="523.4" r="1.95"/><circle cx="332.7" cy="535.0" r="1.95"/><circle cx="329.9" cy="524.8" r="1.95"/><circle cx="349.8" cy="527.3" r="1.95"/><circle cx="347.1" cy="521.1" r="1.95"/><circle cx="342.1" cy="537.0" r="1.95"/><circle cx="348.7" cy="527.8" r="1.95"/><circle cx="329.6" cy="532.2" r="1.95"/><circle cx="337.2" cy="534.7" r="1.95"/><circle cx="358.2" cy="510.7" r="1.95"/><circle cx="375.9" cy="496.3" r="1.95"/><circle cx="346.1" cy="521.5" r="1.95"/><circle cx="383.3" cy="476.2" r="1.95"/><circle cx="349.4" cy="515.7" r="1.95"/><circle cx="374.3" cy="504.9" r="1.95"/><circle cx="368.6" cy="503.4" r="1.95"/><circle cx="340.3" cy="530.2" r="1.95"/><circle cx="453.9" cy="394.8" r="1.95"/><circle cx="339.2" cy="522.3" r="1.95"/><circle cx="356.1" cy="507.6" r="1.95"/><circle cx="343.5" cy="533.1" r="1.95"/><circle cx="335.5" cy="533.3" r="1.95"/><circle cx="330.9" cy="534.5" r="1.95"/><circle cx="338.4" cy="528.8" r="1.95"/><circle cx="345.4" cy="524.8" r="1.95"/><circle cx="322.3" cy="553.1" r="1.95"/><circle cx="316.8" cy="556.5" r="1.95"/><circle cx="337.8" cy="526.1" r="1.95"/><circle cx="360.1" cy="506.5" r="1.95"/><circle cx="318.9" cy="556.2" r="1.95"/><circle cx="324.0" cy="555.1" r="1.95"/><circle cx="344.0" cy="521.9" r="1.95"/><circle cx="379.0" cy="492.7" r="1.95"/><circle cx="380.0" cy="503.5" r="1.95"/><circle cx="349.2" cy="509.6" r="1.95"/><circle cx="352.4" cy="524.1" r="1.95"/><circle cx="339.5" cy="519.9" r="1.95"/><circle cx="330.5" cy="535.7" r="1.95"/><circle cx="335.7" cy="530.4" r="1.95"/><circle cx="346.6" cy="514.4" r="1.95"/><circle cx="379.5" cy="482.1" r="1.95"/><circle cx="332.4" cy="532.8" r="1.95"/><circle cx="332.1" cy="538.2" r="1.95"/><circle cx="367.9" cy="491.5" r="1.95"/><circle cx="348.4" cy="510.8" r="1.95"/><circle cx="345.2" cy="523.1" r="1.95"/><circle cx="346.8" cy="524.9" r="1.95"/><circle cx="363.6" cy="496.1" r="1.95"/><circle cx="325.1" cy="549.4" r="1.95"/><circle cx="352.0" cy="511.0" r="1.95"/><circle cx="303.2" cy="566.4" r="1.95"/><circle cx="339.1" cy="528.3" r="1.95"/><circle cx="355.8" cy="522.3" r="1.95"/><circle cx="349.0" cy="515.1" r="1.95"/><circle cx="376.2" cy="493.5" r="1.95"/><circle cx="344.4" cy="508.9" r="1.95"/><circle cx="334.3" cy="543.4" r="1.95"/><circle cx="349.7" cy="512.8" r="1.95"/><circle cx="369.1" cy="516.2" r="1.95"/><circle cx="332.3" cy="536.9" r="1.95"/><circle cx="316.3" cy="548.0" r="1.95"/><circle cx="345.6" cy="527.4" r="1.95"/><circle cx="369.6" cy="494.6" r="1.95"/><circle cx="337.4" cy="532.6" r="1.95"/><circle cx="320.9" cy="552.6" r="1.95"/><circle cx="365.8" cy="499.7" r="1.95"/><circle cx="358.3" cy="497.0" r="1.95"/><circle cx="365.1" cy="500.5" r="1.95"/><circle cx="335.3" cy="541.8" r="1.95"/><circle cx="329.0" cy="538.8" r="1.95"/><circle cx="340.6" cy="527.8" r="1.95"/><circle cx="370.2" cy="488.5" r="1.95"/><circle cx="328.8" cy="549.0" r="1.95"/><circle cx="358.1" cy="517.8" r="1.95"/><circle cx="358.2" cy="504.0" r="1.95"/><circle cx="347.7" cy="513.1" r="1.95"/><circle cx="374.3" cy="496.1" r="1.95"/><circle cx="346.1" cy="515.5" r="1.95"/><circle cx="333.9" cy="538.1" r="1.95"/><circle cx="322.2" cy="522.3" r="1.95"/><circle cx="351.9" cy="517.3" r="1.95"/><circle cx="356.3" cy="504.3" r="1.95"/><circle cx="390.2" cy="467.8" r="1.95"/><circle cx="362.8" cy="502.4" r="1.95"/><circle cx="332.1" cy="539.3" r="1.95"/><circle cx="363.9" cy="498.7" r="1.95"/><circle cx="357.2" cy="513.2" r="1.95"/><circle cx="343.7" cy="519.7" r="1.95"/><circle cx="326.7" cy="543.9" r="1.95"/><circle cx="319.4" cy="531.9" r="1.95"/><circle cx="399.1" cy="447.6" r="1.95"/><circle cx="353.0" cy="491.9" r="1.95"/><circle cx="352.4" cy="509.3" r="1.95"/><circle cx="328.6" cy="535.5" r="1.95"/><circle cx="357.9" cy="513.9" r="1.95"/><circle cx="340.8" cy="523.0" r="1.95"/><circle cx="354.5" cy="508.3" r="1.95"/><circle cx="333.5" cy="530.7" r="1.95"/><circle cx="320.7" cy="550.9" r="1.95"/><circle cx="318.3" cy="545.8" r="1.95"/><circle cx="334.5" cy="539.0" r="1.95"/><circle cx="324.9" cy="548.2" r="1.95"/><circle cx="338.8" cy="532.3" r="1.95"/><circle cx="343.3" cy="537.0" r="1.95"/><circle cx="324.7" cy="547.2" r="1.95"/><circle cx="338.8" cy="542.6" r="1.95"/><circle cx="367.8" cy="502.5" r="1.95"/><circle cx="343.3" cy="523.1" r="1.95"/><circle cx="338.2" cy="535.0" r="1.95"/><circle cx="340.6" cy="521.3" r="1.95"/><circle cx="349.8" cy="512.9" r="1.95"/><circle cx="370.3" cy="506.8" r="1.95"/><circle cx="327.9" cy="544.3" r="1.95"/><circle cx="335.4" cy="522.7" r="1.95"/><circle cx="405.0" cy="447.8" r="1.95"/><circle cx="314.5" cy="561.7" r="1.95"/><circle cx="337.1" cy="543.9" r="1.95"/><circle cx="316.8" cy="563.9" r="1.95"/><circle cx="347.7" cy="519.4" r="1.95"/><circle cx="341.3" cy="526.8" r="1.95"/><circle cx="313.5" cy="565.1" r="1.95"/><circle cx="331.6" cy="528.2" r="1.95"/><circle cx="318.3" cy="554.7" r="1.95"/><circle cx="336.0" cy="515.7" r="1.95"/><circle cx="316.5" cy="558.1" r="1.95"/><circle cx="356.6" cy="506.0" r="1.95"/><circle cx="315.5" cy="555.8" r="1.95"/><circle cx="326.7" cy="545.5" r="1.95"/><circle cx="334.2" cy="544.1" r="1.95"/><circle cx="359.3" cy="519.8" r="1.95"/><circle cx="338.6" cy="530.0" r="1.95"/><circle cx="341.6" cy="530.7" r="1.95"/><circle cx="322.2" cy="550.2" r="1.95"/><circle cx="311.5" cy="554.7" r="1.95"/><circle cx="339.7" cy="517.4" r="1.95"/><circle cx="357.6" cy="512.7" r="1.95"/><circle cx="336.6" cy="521.6" r="1.95"/><circle cx="361.3" cy="503.9" r="1.95"/><circle cx="335.5" cy="537.0" r="1.95"/><circle cx="362.7" cy="498.8" r="1.95"/><circle cx="367.1" cy="499.7" r="1.95"/><circle cx="334.7" cy="540.2" r="1.95"/><circle cx="386.4" cy="469.2" r="1.95"/><circle cx="335.4" cy="540.8" r="1.95"/><circle cx="337.7" cy="530.2" r="1.95"/><circle cx="364.9" cy="512.5" r="1.95"/><circle cx="321.1" cy="546.3" r="1.95"/><circle cx="352.9" cy="509.3" r="1.95"/><circle cx="361.3" cy="510.0" r="1.95"/><circle cx="355.7" cy="512.7" r="1.95"/><circle cx="347.1" cy="514.5" r="1.95"/><circle cx="335.6" cy="522.7" r="1.95"/><circle cx="345.8" cy="519.9" r="1.95"/><circle cx="374.0" cy="493.6" r="1.95"/><circle cx="355.3" cy="503.0" r="1.95"/><circle cx="351.9" cy="518.8" r="1.95"/><circle cx="310.3" cy="550.8" r="1.95"/><circle cx="365.4" cy="503.7" r="1.95"/><circle cx="325.2" cy="552.8" r="1.95"/><circle cx="342.4" cy="522.0" r="1.95"/><circle cx="401.5" cy="448.0" r="1.95"/><circle cx="355.6" cy="528.5" r="1.95"/><circle cx="358.7" cy="514.9" r="1.95"/><circle cx="336.0" cy="544.0" r="1.95"/><circle cx="321.8" cy="542.0" r="1.95"/><circle cx="354.0" cy="521.6" r="1.95"/><circle cx="355.1" cy="530.5" r="1.95"/><circle cx="350.0" cy="505.7" r="1.95"/><circle cx="333.4" cy="527.2" r="1.95"/><circle cx="357.3" cy="509.2" r="1.95"/><circle cx="338.0" cy="530.5" r="1.95"/><circle cx="338.4" cy="523.0" r="1.95"/><circle cx="356.9" cy="517.9" r="1.95"/><circle cx="328.3" cy="538.9" r="1.95"/><circle cx="428.4" cy="418.0" r="1.95"/><circle cx="337.6" cy="531.1" r="1.95"/><circle cx="348.1" cy="519.3" r="1.95"/><circle cx="307.3" cy="565.9" r="1.95"/><circle cx="360.0" cy="510.2" r="1.95"/><circle cx="356.0" cy="508.2" r="1.95"/><circle cx="326.6" cy="553.7" r="1.95"/><circle cx="350.6" cy="505.1" r="1.95"/><circle cx="340.2" cy="528.6" r="1.95"/><circle cx="351.9" cy="519.2" r="1.95"/><circle cx="350.0" cy="524.0" r="1.95"/><circle cx="373.8" cy="481.6" r="1.95"/><circle cx="353.1" cy="517.3" r="1.95"/><circle cx="339.8" cy="522.2" r="1.95"/><circle cx="361.9" cy="503.2" r="1.95"/><circle cx="353.1" cy="498.9" r="1.95"/><circle cx="326.4" cy="549.4" r="1.95"/><circle cx="325.8" cy="535.6" r="1.95"/><circle cx="368.1" cy="513.7" r="1.95"/><circle cx="369.6" cy="487.3" r="1.95"/><circle cx="340.2" cy="525.9" r="1.95"/><circle cx="347.1" cy="515.5" r="1.95"/><circle cx="346.0" cy="522.2" r="1.95"/><circle cx="320.5" cy="546.6" r="1.95"/><circle cx="334.6" cy="531.3" r="1.95"/><circle cx="368.1" cy="497.2" r="1.95"/><circle cx="354.1" cy="513.4" r="1.95"/><circle cx="365.2" cy="510.4" r="1.95"/><circle cx="341.5" cy="532.8" r="1.95"/><circle cx="368.0" cy="502.5" r="1.95"/><circle cx="352.0" cy="517.3" r="1.95"/><circle cx="339.3" cy="518.5" r="1.95"/><circle cx="354.9" cy="512.5" r="1.95"/><circle cx="339.3" cy="520.4" r="1.95"/><circle cx="354.0" cy="535.5" r="1.95"/><circle cx="353.2" cy="511.2" r="1.95"/><circle cx="326.8" cy="542.3" r="1.95"/><circle cx="312.0" cy="554.1" r="1.95"/><circle cx="358.9" cy="509.5" r="1.95"/><circle cx="343.2" cy="548.3" r="1.95"/><circle cx="333.4" cy="528.5" r="1.95"/><circle cx="355.3" cy="505.4" r="1.95"/><circle cx="339.3" cy="521.8" r="1.95"/><circle cx="364.2" cy="496.9" r="1.95"/><circle cx="343.3" cy="522.6" r="1.95"/><circle cx="312.0" cy="560.0" r="1.95"/><circle cx="368.5" cy="502.6" r="1.95"/><circle cx="336.7" cy="530.7" r="1.95"/><circle cx="339.1" cy="518.5" r="1.95"/><circle cx="379.0" cy="491.9" r="1.95"/><circle cx="357.5" cy="508.2" r="1.95"/><circle cx="322.3" cy="547.7" r="1.95"/><circle cx="351.7" cy="498.9" r="1.95"/><circle cx="360.0" cy="512.3" r="1.95"/><circle cx="361.7" cy="502.6" r="1.95"/><circle cx="369.5" cy="519.6" r="1.95"/><circle cx="366.7" cy="496.9" r="1.95"/><circle cx="359.1" cy="508.9" r="1.95"/><circle cx="327.3" cy="537.3" r="1.95"/><circle cx="317.0" cy="551.0" r="1.95"/><circle cx="373.4" cy="505.5" r="1.95"/><circle cx="338.7" cy="533.1" r="1.95"/><circle cx="356.7" cy="509.3" r="1.95"/><circle cx="303.4" cy="567.0" r="1.95"/><circle cx="322.9" cy="550.5" r="1.95"/><circle cx="361.4" cy="501.8" r="1.95"/><circle cx="331.1" cy="552.7" r="1.95"/><circle cx="337.0" cy="531.7" r="1.95"/><circle cx="361.7" cy="494.6" r="1.95"/><circle cx="332.5" cy="530.4" r="1.95"/><circle cx="351.6" cy="508.5" r="1.95"/><circle cx="327.8" cy="535.0" r="1.95"/><circle cx="346.4" cy="515.9" r="1.95"/><circle cx="313.7" cy="557.4" r="1.95"/><circle cx="389.9" cy="472.5" r="1.95"/><circle cx="351.7" cy="514.8" r="1.95"/><circle cx="351.3" cy="519.8" r="1.95"/><circle cx="362.9" cy="503.0" r="1.95"/><circle cx="342.7" cy="513.0" r="1.95"/><circle cx="337.5" cy="524.6" r="1.95"/><circle cx="354.4" cy="494.8" r="1.95"/><circle cx="343.5" cy="535.2" r="1.95"/><circle cx="355.0" cy="506.4" r="1.95"/><circle cx="353.7" cy="511.4" r="1.95"/><circle cx="361.2" cy="502.2" r="1.95"/><circle cx="366.1" cy="491.5" r="1.95"/><circle cx="343.8" cy="527.2" r="1.95"/><circle cx="307.4" cy="561.8" r="1.95"/><circle cx="327.4" cy="549.4" r="1.95"/><circle cx="321.1" cy="553.9" r="1.95"/><circle cx="330.8" cy="498.0" r="1.95"/><circle cx="367.4" cy="503.2" r="1.95"/><circle cx="359.0" cy="507.8" r="1.95"/><circle cx="353.0" cy="509.2" r="1.95"/><circle cx="347.1" cy="518.8" r="1.95"/><circle cx="350.7" cy="510.9" r="1.95"/><circle cx="358.9" cy="504.8" r="1.95"/><circle cx="345.0" cy="518.7" r="1.95"/><circle cx="348.4" cy="503.5" r="1.95"/><circle cx="358.1" cy="500.0" r="1.95"/><circle cx="369.3" cy="501.2" r="1.95"/><circle cx="334.2" cy="521.2" r="1.95"/><circle cx="323.2" cy="541.1" r="1.95"/><circle cx="366.5" cy="503.1" r="1.95"/><circle cx="367.0" cy="494.3" r="1.95"/><circle cx="348.5" cy="528.7" r="1.95"/><circle cx="337.2" cy="466.6" r="1.95"/><circle cx="344.1" cy="513.1" r="1.95"/><circle cx="309.3" cy="560.5" r="1.95"/><circle cx="361.5" cy="504.7" r="1.95"/><circle cx="330.3" cy="560.6" r="1.95"/><circle cx="335.9" cy="533.3" r="1.95"/><circle cx="332.2" cy="540.0" r="1.95"/><circle cx="350.2" cy="522.0" r="1.95"/><circle cx="318.9" cy="556.6" r="1.95"/><circle cx="329.3" cy="547.8" r="1.95"/><circle cx="353.4" cy="515.9" r="1.95"/><circle cx="354.5" cy="513.4" r="1.95"/><circle cx="357.4" cy="497.3" r="1.95"/><circle cx="372.5" cy="481.6" r="1.95"/><circle cx="345.2" cy="523.0" r="1.95"/><circle cx="374.7" cy="497.8" r="1.95"/><circle cx="348.2" cy="528.9" r="1.95"/><circle cx="341.7" cy="528.9" r="1.95"/><circle cx="341.6" cy="521.7" r="1.95"/><circle cx="348.4" cy="519.4" r="1.95"/><circle cx="325.2" cy="530.5" r="1.95"/><circle cx="320.8" cy="548.1" r="1.95"/><circle cx="368.2" cy="501.3" r="1.95"/><circle cx="357.2" cy="506.9" r="1.95"/><circle cx="321.0" cy="541.0" r="1.95"/><circle cx="373.6" cy="491.0" r="1.95"/><circle cx="335.4" cy="525.5" r="1.95"/><circle cx="335.5" cy="534.8" r="1.95"/><circle cx="345.3" cy="530.9" r="1.95"/><circle cx="337.4" cy="527.5" r="1.95"/><circle cx="340.1" cy="526.6" r="1.95"/><circle cx="339.6" cy="523.3" r="1.95"/><circle cx="329.2" cy="537.6" r="1.95"/><circle cx="355.5" cy="517.2" r="1.95"/><circle cx="356.8" cy="505.6" r="1.95"/><circle cx="343.1" cy="519.8" r="1.95"/><circle cx="353.1" cy="512.2" r="1.95"/><circle cx="352.2" cy="518.5" r="1.95"/><circle cx="354.3" cy="523.4" r="1.95"/><circle cx="361.5" cy="504.2" r="1.95"/><circle cx="330.8" cy="550.8" r="1.95"/><circle cx="327.1" cy="537.8" r="1.95"/><circle cx="357.4" cy="514.4" r="1.95"/><circle cx="348.9" cy="522.8" r="1.95"/><circle cx="387.7" cy="472.6" r="1.95"/><circle cx="356.4" cy="509.9" r="1.95"/><circle cx="382.4" cy="504.0" r="1.95"/><circle cx="350.2" cy="519.9" r="1.95"/><circle cx="376.0" cy="489.2" r="1.95"/><circle cx="352.6" cy="511.1" r="1.95"/><circle cx="342.4" cy="530.9" r="1.95"/><circle cx="316.5" cy="537.6" r="1.95"/><circle cx="377.9" cy="494.5" r="1.95"/><circle cx="356.2" cy="518.6" r="1.95"/><circle cx="311.0" cy="551.1" r="1.95"/><circle cx="325.0" cy="531.5" r="1.95"/><circle cx="366.1" cy="500.8" r="1.95"/><circle cx="360.9" cy="514.7" r="1.95"/><circle cx="372.9" cy="488.3" r="1.95"/><circle cx="362.9" cy="501.3" r="1.95"/><circle cx="360.7" cy="510.8" r="1.95"/><circle cx="340.0" cy="515.7" r="1.95"/><circle cx="330.3" cy="526.5" r="1.95"/><circle cx="362.6" cy="522.8" r="1.95"/><circle cx="338.2" cy="525.7" r="1.95"/><circle cx="352.9" cy="538.0" r="1.95"/><circle cx="348.7" cy="520.4" r="1.95"/><circle cx="310.1" cy="558.1" r="1.95"/><circle cx="366.7" cy="521.4" r="1.95"/><circle cx="353.6" cy="505.4" r="1.95"/><circle cx="336.4" cy="534.8" r="1.95"/><circle cx="344.4" cy="528.5" r="1.95"/><circle cx="378.8" cy="477.6" r="1.95"/><circle cx="377.1" cy="477.8" r="1.95"/><circle cx="355.5" cy="508.1" r="1.95"/><circle cx="341.9" cy="515.0" r="1.95"/><circle cx="322.9" cy="538.2" r="1.95"/><circle cx="339.3" cy="524.7" r="1.95"/><circle cx="335.6" cy="525.6" r="1.95"/><circle cx="345.2" cy="525.4" r="1.95"/><circle cx="348.4" cy="533.1" r="1.95"/><circle cx="362.9" cy="505.1" r="1.95"/><circle cx="344.9" cy="523.5" r="1.95"/><circle cx="355.1" cy="511.1" r="1.95"/><circle cx="369.5" cy="491.6" r="1.95"/><circle cx="362.0" cy="506.7" r="1.95"/><circle cx="326.7" cy="541.9" r="1.95"/><circle cx="351.7" cy="504.6" r="1.95"/><circle cx="322.2" cy="546.4" r="1.95"/><circle cx="355.2" cy="509.0" r="1.95"/><circle cx="354.6" cy="514.1" r="1.95"/><circle cx="336.1" cy="546.7" r="1.95"/><circle cx="374.7" cy="496.5" r="1.95"/><circle cx="350.6" cy="513.5" r="1.95"/><circle cx="367.4" cy="508.7" r="1.95"/><circle cx="325.4" cy="525.5" r="1.95"/><circle cx="363.9" cy="502.3" r="1.95"/><circle cx="321.2" cy="544.7" r="1.95"/><circle cx="336.2" cy="524.6" r="1.95"/><circle cx="367.8" cy="506.6" r="1.95"/><circle cx="346.8" cy="509.2" r="1.95"/><circle cx="371.3" cy="471.9" r="1.95"/><circle cx="348.9" cy="509.1" r="1.95"/><circle cx="379.2" cy="487.3" r="1.95"/><circle cx="344.6" cy="525.8" r="1.95"/><circle cx="346.1" cy="521.8" r="1.95"/><circle cx="326.7" cy="539.8" r="1.95"/><circle cx="335.0" cy="536.0" r="1.95"/><circle cx="352.5" cy="519.7" r="1.95"/><circle cx="330.1" cy="471.9" r="1.95"/><circle cx="344.3" cy="522.4" r="1.95"/><circle cx="347.9" cy="528.9" r="1.95"/><circle cx="351.2" cy="518.7" r="1.95"/><circle cx="358.7" cy="517.8" r="1.95"/><circle cx="340.4" cy="526.4" r="1.95"/><circle cx="349.8" cy="530.8" r="1.95"/><circle cx="359.1" cy="515.4" r="1.95"/><circle cx="329.7" cy="551.2" r="1.95"/><circle cx="359.1" cy="509.9" r="1.95"/><circle cx="354.2" cy="503.2" r="1.95"/><circle cx="365.5" cy="509.2" r="1.95"/><circle cx="361.0" cy="513.2" r="1.95"/><circle cx="341.7" cy="532.1" r="1.95"/><circle cx="363.1" cy="496.1" r="1.95"/><circle cx="335.7" cy="532.3" r="1.95"/><circle cx="317.4" cy="552.6" r="1.95"/><circle cx="364.9" cy="503.4" r="1.95"/><circle cx="331.4" cy="531.2" r="1.95"/><circle cx="332.2" cy="535.0" r="1.95"/><circle cx="326.7" cy="547.2" r="1.95"/><circle cx="350.2" cy="530.1" r="1.95"/><circle cx="332.0" cy="539.5" r="1.95"/><circle cx="305.0" cy="559.8" r="1.95"/><circle cx="322.0" cy="549.0" r="1.95"/><circle cx="349.5" cy="523.3" r="1.95"/><circle cx="347.4" cy="512.9" r="1.95"/><circle cx="339.5" cy="530.6" r="1.95"/><circle cx="316.2" cy="543.3" r="1.95"/><circle cx="379.6" cy="474.2" r="1.95"/><circle cx="323.3" cy="538.2" r="1.95"/><circle cx="337.0" cy="522.5" r="1.95"/>
</g>
<rect x="295.44" y="386.86" width="166.62" height="187.34" fill="none" stroke="#000" stroke-width="1.45"/>
<path d="M295.44 574.20h-6M295.44 538.50h-6M295.44 502.80h-6M295.44 467.10h-6M295.44 431.40h-6M295.44 395.70h-6M325.40 574.2v6M384.28 574.2v6M443.16 574.2v6" stroke="#000" stroke-width="1.45" fill="none"/>
<path d="M295.44 556.35h-3.6M295.44 520.65h-3.6M295.44 484.95h-3.6M295.44 449.25h-3.6M295.44 413.55h-3.6M295.96 574.2v3.6M310.68 574.2v3.6M340.12 574.2v3.6M354.84 574.2v3.6M369.56 574.2v3.6M399.00 574.2v3.6M413.72 574.2v3.6M428.44 574.2v3.6M457.88 574.2v3.6" stroke="#000" stroke-width="1.1" fill="none"/>
<g fill="#1f77b4" stroke="#fff" stroke-width="0.45">
<circle cx="546.3" cy="537.3" r="1.95"/><circle cx="557.8" cy="501.6" r="1.95"/><circle cx="607.6" cy="514.9" r="1.95"/><circle cx="604.3" cy="535.8" r="1.95"/><circle cx="589.6" cy="522.6" r="1.95"/><circle cx="588.7" cy="503.3" r="1.95"/><circle cx="558.1" cy="521.9" r="1.95"/><circle cx="608.3" cy="560.5" r="1.95"/><circle cx="545.4" cy="508.5" r="1.95"/><circle cx="557.6" cy="529.3" r="1.95"/><circle cx="519.2" cy="523.1" r="1.95"/><circle cx="602.5" cy="525.4" r="1.95"/><circle cx="562.7" cy="528.4" r="1.95"/><circle cx="534.9" cy="518.3" r="1.95"/><circle cx="568.5" cy="553.5" r="1.95"/><circle cx="585.1" cy="523.1" r="1.95"/><circle cx="631.8" cy="508.9" r="1.95"/><circle cx="559.3" cy="522.7" r="1.95"/><circle cx="542.8" cy="559.9" r="1.95"/><circle cx="582.4" cy="507.8" r="1.95"/><circle cx="637.7" cy="520.3" r="1.95"/><circle cx="595.6" cy="537.6" r="1.95"/><circle cx="566.7" cy="522.0" r="1.95"/><circle cx="565.5" cy="521.0" r="1.95"/><circle cx="579.7" cy="555.5" r="1.95"/><circle cx="562.7" cy="501.8" r="1.95"/><circle cx="609.1" cy="514.9" r="1.95"/><circle cx="552.1" cy="524.1" r="1.95"/><circle cx="624.4" cy="489.8" r="1.95"/><circle cx="591.7" cy="516.0" r="1.95"/><circle cx="585.8" cy="509.3" r="1.95"/><circle cx="592.2" cy="536.1" r="1.95"/><circle cx="578.5" cy="516.5" r="1.95"/><circle cx="571.5" cy="545.1" r="1.95"/><circle cx="601.3" cy="543.5" r="1.95"/><circle cx="572.0" cy="498.0" r="1.95"/><circle cx="558.7" cy="501.3" r="1.95"/><circle cx="597.3" cy="479.6" r="1.95"/><circle cx="581.9" cy="504.1" r="1.95"/><circle cx="558.3" cy="522.9" r="1.95"/><circle cx="569.0" cy="517.6" r="1.95"/><circle cx="599.3" cy="548.1" r="1.95"/><circle cx="593.3" cy="538.2" r="1.95"/><circle cx="583.3" cy="563.2" r="1.95"/><circle cx="547.5" cy="533.6" r="1.95"/><circle cx="564.7" cy="505.2" r="1.95"/><circle cx="599.3" cy="554.1" r="1.95"/><circle cx="605.6" cy="519.1" r="1.95"/><circle cx="538.9" cy="513.5" r="1.95"/><circle cx="583.1" cy="521.5" r="1.95"/><circle cx="581.5" cy="510.9" r="1.95"/><circle cx="585.2" cy="533.5" r="1.95"/><circle cx="581.4" cy="504.2" r="1.95"/><circle cx="589.8" cy="500.4" r="1.95"/><circle cx="597.2" cy="531.7" r="1.95"/><circle cx="541.3" cy="529.8" r="1.95"/><circle cx="562.8" cy="513.8" r="1.95"/><circle cx="600.0" cy="494.1" r="1.95"/><circle cx="562.0" cy="505.5" r="1.95"/><circle cx="581.3" cy="479.8" r="1.95"/><circle cx="543.1" cy="511.4" r="1.95"/><circle cx="579.7" cy="498.1" r="1.95"/><circle cx="582.7" cy="528.4" r="1.95"/><circle cx="594.3" cy="513.0" r="1.95"/><circle cx="602.5" cy="492.1" r="1.95"/><circle cx="563.7" cy="538.2" r="1.95"/><circle cx="534.4" cy="504.2" r="1.95"/><circle cx="556.2" cy="505.2" r="1.95"/><circle cx="602.2" cy="527.3" r="1.95"/><circle cx="581.9" cy="537.5" r="1.95"/><circle cx="614.2" cy="500.2" r="1.95"/><circle cx="598.6" cy="529.2" r="1.95"/><circle cx="561.2" cy="531.2" r="1.95"/><circle cx="549.4" cy="512.5" r="1.95"/><circle cx="582.5" cy="533.5" r="1.95"/><circle cx="611.3" cy="495.2" r="1.95"/><circle cx="592.6" cy="518.7" r="1.95"/><circle cx="583.5" cy="498.7" r="1.95"/><circle cx="596.3" cy="516.7" r="1.95"/><circle cx="632.1" cy="492.3" r="1.95"/><circle cx="614.9" cy="527.3" r="1.95"/><circle cx="602.8" cy="523.3" r="1.95"/><circle cx="558.6" cy="530.9" r="1.95"/><circle cx="636.0" cy="515.7" r="1.95"/><circle cx="604.1" cy="498.9" r="1.95"/><circle cx="578.1" cy="529.8" r="1.95"/><circle cx="653.5" cy="541.0" r="1.95"/><circle cx="579.2" cy="540.7" r="1.95"/><circle cx="504.1" cy="482.3" r="1.95"/><circle cx="600.0" cy="506.5" r="1.95"/><circle cx="615.9" cy="521.9" r="1.95"/><circle cx="585.1" cy="537.5" r="1.95"/><circle cx="570.2" cy="533.3" r="1.95"/><circle cx="576.6" cy="522.6" r="1.95"/><circle cx="561.7" cy="521.9" r="1.95"/><circle cx="608.5" cy="517.9" r="1.95"/><circle cx="604.6" cy="494.7" r="1.95"/><circle cx="559.5" cy="502.5" r="1.95"/><circle cx="609.5" cy="510.2" r="1.95"/><circle cx="583.5" cy="537.9" r="1.95"/><circle cx="582.1" cy="510.5" r="1.95"/><circle cx="563.4" cy="547.9" r="1.95"/><circle cx="602.8" cy="524.1" r="1.95"/><circle cx="574.2" cy="493.5" r="1.95"/><circle cx="588.7" cy="549.1" r="1.95"/><circle cx="593.0" cy="506.7" r="1.95"/><circle cx="582.6" cy="536.0" r="1.95"/><circle cx="578.0" cy="519.7" r="1.95"/><circle cx="601.0" cy="534.4" r="1.95"/><circle cx="561.3" cy="535.9" r="1.95"/><circle cx="589.9" cy="449.2" r="1.95"/><circle cx="598.6" cy="519.9" r="1.95"/><circle cx="572.3" cy="540.3" r="1.95"/><circle cx="594.5" cy="502.3" r="1.95"/><circle cx="537.2" cy="510.3" r="1.95"/><circle cx="593.0" cy="528.7" r="1.95"/><circle cx="548.8" cy="544.2" r="1.95"/><circle cx="580.7" cy="541.4" r="1.95"/><circle cx="580.2" cy="503.2" r="1.95"/><circle cx="589.0" cy="525.3" r="1.95"/><circle cx="583.3" cy="523.4" r="1.95"/><circle cx="573.4" cy="535.0" r="1.95"/><circle cx="535.7" cy="524.8" r="1.95"/><circle cx="609.5" cy="527.3" r="1.95"/><circle cx="583.3" cy="521.1" r="1.95"/><circle cx="610.5" cy="537.0" r="1.95"/><circle cx="607.0" cy="527.8" r="1.95"/><circle cx="555.4" cy="532.2" r="1.95"/><circle cx="587.6" cy="534.7" r="1.95"/><circle cx="591.8" cy="510.7" r="1.95"/><circle cx="611.2" cy="496.3" r="1.95"/><circle cx="580.8" cy="521.5" r="1.95"/><circle cx="580.5" cy="476.2" r="1.95"/><circle cx="575.9" cy="515.7" r="1.95"/><circle cx="629.8" cy="504.9" r="1.95"/><circle cx="606.4" cy="503.4" r="1.95"/><circle cx="585.5" cy="530.2" r="1.95"/><circle cx="596.6" cy="394.8" r="1.95"/><circle cx="560.2" cy="522.3" r="1.95"/><circle cx="576.2" cy="507.6" r="1.95"/><circle cx="604.3" cy="533.1" r="1.95"/><circle cx="578.2" cy="533.3" r="1.95"/><circle cx="566.0" cy="534.5" r="1.95"/><circle cx="575.3" cy="528.8" r="1.95"/><circle cx="587.7" cy="524.8" r="1.95"/><circle cx="588.6" cy="553.1" r="1.95"/><circle cx="579.7" cy="556.5" r="1.95"/><circle cx="566.0" cy="526.1" r="1.95"/><circle cx="586.4" cy="506.5" r="1.95"/><circle cx="585.7" cy="556.2" r="1.95"/><circle cx="599.6" cy="555.1" r="1.95"/><circle cx="575.0" cy="521.9" r="1.95"/><circle cx="611.5" cy="492.7" r="1.95"/><circle cx="644.9" cy="503.5" r="1.95"/><circle cx="558.5" cy="509.6" r="1.95"/><circle cx="609.3" cy="524.1" r="1.95"/><circle cx="554.3" cy="519.9" r="1.95"/><circle cx="568.1" cy="535.7" r="1.95"/><circle cx="570.7" cy="530.4" r="1.95"/><circle cx="563.0" cy="514.4" r="1.95"/><circle cx="584.0" cy="482.1" r="1.95"/><circle cx="566.3" cy="532.8" r="1.95"/><circle cx="580.2" cy="538.2" r="1.95"/><circle cx="571.0" cy="491.5" r="1.95"/><circle cx="559.1" cy="510.8" r="1.95"/><circle cx="582.5" cy="523.1" r="1.95"/><circle cx="592.7" cy="524.9" r="1.95"/><circle cx="569.3" cy="496.1" r="1.95"/><circle cx="587.8" cy="549.4" r="1.95"/><circle cx="571.6" cy="511.0" r="1.95"/><circle cx="561.3" cy="566.4" r="1.95"/><circle cx="576.2" cy="528.3" r="1.95"/><circle cx="615.8" cy="522.3" r="1.95"/><circle cx="573.1" cy="515.1" r="1.95"/><circle cx="604.3" cy="493.5" r="1.95"/><circle cx="540.4" cy="508.9" r="1.95"/><circle cx="601.8" cy="543.4" r="1.95"/><circle cx="568.9" cy="512.8" r="1.95"/><circle cx="643.4" cy="516.2" r="1.95"/><circle cx="577.3" cy="536.9" r="1.95"/><circle cx="554.4" cy="548.0" r="1.95"/><circle cx="595.8" cy="527.4" r="1.95"/><circle cx="585.6" cy="494.6" r="1.95"/><circle cx="582.6" cy="532.6" r="1.95"/><circle cx="582.5" cy="552.6" r="1.95"/><circle cx="586.8" cy="499.7" r="1.95"/><circle cx="554.2" cy="497.0" r="1.95"/><circle cx="586.5" cy="500.5" r="1.95"/><circle cx="600.8" cy="541.8" r="1.95"/><circle cx="571.6" cy="538.8" r="1.95"/><circle cx="579.9" cy="527.8" r="1.95"/><circle cx="570.7" cy="488.5" r="1.95"/><circle cx="599.0" cy="549.0" r="1.95"/><circle cx="610.8" cy="517.8" r="1.95"/><circle cx="573.1" cy="504.0" r="1.95"/><circle cx="563.1" cy="513.1" r="1.95"/><circle cx="605.3" cy="496.1" r="1.95"/><circle cx="564.4" cy="515.5" r="1.95"/><circle cx="585.8" cy="538.1" r="1.95"/><circle cx="503.1" cy="522.3" r="1.95"/><circle cx="588.7" cy="517.3" r="1.95"/><circle cx="567.5" cy="504.3" r="1.95"/><circle cx="580.5" cy="467.8" r="1.95"/><circle cx="584.3" cy="502.4" r="1.95"/><circle cx="583.2" cy="539.3" r="1.95"/><circle cx="577.6" cy="498.7" r="1.95"/><circle cx="595.3" cy="513.2" r="1.95"/><circle cx="568.1" cy="519.7" r="1.95"/><circle cx="577.7" cy="543.9" r="1.95"/><circle cx="520.4" cy="531.9" r="1.95"/><circle cx="557.6" cy="447.6" r="1.95"/><circle cx="522.4" cy="491.9" r="1.95"/><circle cx="568.5" cy="509.3" r="1.95"/><circle cx="561.1" cy="535.5" r="1.95"/><circle cx="599.5" cy="513.9" r="1.95"/><circle cx="567.4" cy="523.0" r="1.95"/><circle cx="572.5" cy="508.3" r="1.95"/><circle cx="564.4" cy="530.7" r="1.95"/><circle cx="577.0" cy="550.9" r="1.95"/><circle cx="554.7" cy="545.8" r="1.95"/><circle cx="590.7" cy="539.0" r="1.95"/><circle cx="583.9" cy="548.2" r="1.95"/><circle cx="586.5" cy="532.3" r="1.95"/><circle cx="614.6" cy="537.0" r="1.95"/><circle cx="580.3" cy="547.2" r="1.95"/><circle cx="614.6" cy="542.6" r="1.95"/><circle cx="601.0" cy="502.5" r="1.95"/><circle cx="575.9" cy="523.1" r="1.95"/><circle cx="591.8" cy="535.0" r="1.95"/><circle cx="562.0" cy="521.3" r="1.95"/><circle cx="569.5" cy="512.9" r="1.95"/><circle cx="621.5" cy="506.8" r="1.95"/><circle cx="582.8" cy="544.3" r="1.95"/><circle cx="548.3" cy="522.7" r="1.95"/><circle cx="576.3" cy="447.8" r="1.95"/><circle cx="586.4" cy="561.7" r="1.95"/><circle cx="612.6" cy="543.9" r="1.95"/><circle cx="599.9" cy="563.9" r="1.95"/><circle cx="580.6" cy="519.4" r="1.95"/><circle cx="579.6" cy="526.8" r="1.95"/><circle cx="592.2" cy="565.1" r="1.95"/><circle cx="550.9" cy="528.2" r="1.95"/><circle cx="579.5" cy="554.7" r="1.95"/><circle cx="531.0" cy="515.7" r="1.95"/><circle cx="582.9" cy="558.1" r="1.95"/><circle cx="573.3" cy="506.0" r="1.95"/><circle cx="573.4" cy="555.8" r="1.95"/><circle cx="582.5" cy="545.5" r="1.95"/><circle cx="603.4" cy="544.1" r="1.95"/><circle cx="620.5" cy="519.8" r="1.95"/><circle cx="579.3" cy="530.0" r="1.95"/><circle cx="591.3" cy="530.7" r="1.95"/><circle cx="579.9" cy="550.2" r="1.95"/><circle cx="556.5" cy="554.7" r="1.95"/><circle cx="548.3" cy="517.4" r="1.95"/><circle cx="595.3" cy="512.7" r="1.95"/><circle cx="549.5" cy="521.6" r="1.95"/><circle cx="583.1" cy="503.9" r="1.95"/><circle cx="588.5" cy="537.0" r="1.95"/><circle cx="574.0" cy="498.8" r="1.95"/><circle cx="591.2" cy="499.7" r="1.95"/><circle cx="594.4" cy="540.2" r="1.95"/><circle cx="571.7" cy="469.2" r="1.95"/><circle cx="598.4" cy="540.8" r="1.95"/><circle cx="576.8" cy="530.2" r="1.95"/><circle cx="619.1" cy="512.5" r="1.95"/><circle cx="565.8" cy="546.3" r="1.95"/><circle cx="569.9" cy="509.3" r="1.95"/><circle cx="600.2" cy="510.0" r="1.95"/><circle cx="588.7" cy="512.7" r="1.95"/><circle cx="565.0" cy="514.5" r="1.95"/><circle cx="549.0" cy="522.7" r="1.95"/><circle cx="575.5" cy="519.9" r="1.95"/><circle cx="597.5" cy="493.6" r="1.95"/><circle cx="560.9" cy="503.0" r="1.95"/><circle cx="593.1" cy="518.8" r="1.95"/><circle cx="542.1" cy="550.8" r="1.95"/><circle cx="596.6" cy="503.7" r="1.95"/><circle cx="597.2" cy="552.8" r="1.95"/><circle cx="570.1" cy="522.0" r="1.95"/><circle cx="564.5" cy="448.0" r="1.95"/><circle cx="632.3" cy="528.5" r="1.95"/><circle cx="605.0" cy="514.9" r="1.95"/><circle cx="609.2" cy="544.0" r="1.95"/><circle cx="556.1" cy="542.0" r="1.95"/><circle cx="607.8" cy="521.6" r="1.95"/><circle cx="635.8" cy="530.5" r="1.95"/><circle cx="550.6" cy="505.7" r="1.95"/><circle cx="554.2" cy="527.2" r="1.95"/><circle cx="584.5" cy="509.2" r="1.95"/><circle cx="578.8" cy="530.5" r="1.95"/><circle cx="559.3" cy="523.0" r="1.95"/><circle cx="607.1" cy="517.9" r="1.95"/><circle cx="569.5" cy="538.9" r="1.95"/><circle cx="573.6" cy="418.0" r="1.95"/><circle cx="578.9" cy="531.1" r="1.95"/><circle cx="581.6" cy="519.3" r="1.95"/><circle cx="573.6" cy="565.9" r="1.95"/><circle cx="596.2" cy="510.2" r="1.95"/><circle cx="577.3" cy="508.2" r="1.95"/><circle cx="604.6" cy="553.7" r="1.95"/><circle cx="550.9" cy="505.1" r="1.95"/><circle cx="581.0" cy="528.6" r="1.95"/><circle cx="593.9" cy="519.2" r="1.95"/><circle cx="601.1" cy="524.0" r="1.95"/><circle cx="563.3" cy="481.6" r="1.95"/><circle cx="592.8" cy="517.3" r="1.95"/><circle cx="561.6" cy="522.2" r="1.95"/><circle cx="583.3" cy="503.2" r="1.95"/><circle cx="541.8" cy="498.9" r="1.95"/><circle cx="591.9" cy="549.4" r="1.95"/><circle cx="552.1" cy="535.6" r="1.95"/><circle cx="633.0" cy="513.7" r="1.95"/><circle cx="565.0" cy="487.3" r="1.95"/><circle cx="573.1" cy="525.9" r="1.95"/><circle cx="567.9" cy="515.5" r="1.95"/><circle cx="582.6" cy="522.2" r="1.95"/><circle cx="564.6" cy="546.6" r="1.95"/><circle cx="569.4" cy="531.3" r="1.95"/><circle cx="587.4" cy="497.2" r="1.95"/><circle cx="585.4" cy="513.4" r="1.95"/><circle cx="614.3" cy="510.4" r="1.95"/><circle cx="596.7" cy="532.8" r="1.95"/><circle cx="601.7" cy="502.5" r="1.95"/><circle cx="589.4" cy="517.3" r="1.95"/><circle cx="549.8" cy="518.5" r="1.95"/><circle cx="585.7" cy="512.5" r="1.95"/><circle cx="555.1" cy="520.4" r="1.95"/><circle cx="645.9" cy="535.5" r="1.95"/><circle cx="576.4" cy="511.2" r="1.95"/><circle cx="573.9" cy="542.3" r="1.95"/><circle cx="556.8" cy="554.1" r="1.95"/><circle cx="590.8" cy="509.5" r="1.95"/><circle cx="645.4" cy="548.3" r="1.95"/><circle cx="557.6" cy="528.5" r="1.95"/><circle cx="567.4" cy="505.4" r="1.95"/><circle cx="559.0" cy="521.8" r="1.95"/><circle cx="573.5" cy="496.9" r="1.95"/><circle cx="574.8" cy="522.6" r="1.95"/><circle cx="573.0" cy="560.0" r="1.95"/><circle cx="603.9" cy="502.6" r="1.95"/><circle cx="575.0" cy="530.7" r="1.95"/><circle cx="549.3" cy="518.5" r="1.95"/><circle cx="609.5" cy="491.9" r="1.95"/><circle cx="582.3" cy="508.2" r="1.95"/><circle cx="573.8" cy="547.7" r="1.95"/><circle cx="537.4" cy="498.9" r="1.95"/><circle cx="602.0" cy="512.3" r="1.95"/><circle cx="581.0" cy="502.6" r="1.95"/><circle cx="654.0" cy="519.6" r="1.95"/><circle cx="581.8" cy="496.9" r="1.95"/><circle cx="589.8" cy="508.9" r="1.95"/><circle cx="561.7" cy="537.3" r="1.95"/><circle cx="564.9" cy="551.0" r="1.95"/><circle cx="628.1" cy="505.5" r="1.95"/><circle cx="588.4" cy="533.1" r="1.95"/><circle cx="582.7" cy="509.3" r="1.95"/><circle cx="563.6" cy="567.0" r="1.95"/><circle cx="583.4" cy="550.5" r="1.95"/><circle cx="577.6" cy="501.8" r="1.95"/><circle cx="617.0" cy="552.7" r="1.95"/><circle cx="578.6" cy="531.7" r="1.95"/><circle cx="558.8" cy="494.6" r="1.95"/><circle cx="560.0" cy="530.4" r="1.95"/><circle cx="563.5" cy="508.5" r="1.95"/><circle cx="557.1" cy="535.0" r="1.95"/><circle cx="566.6" cy="515.9" r="1.95"/><circle cx="571.6" cy="557.4" r="1.95"/><circle cx="592.1" cy="472.5" r="1.95"/><circle cx="581.1" cy="514.8" r="1.95"/><circle cx="593.7" cy="519.8" r="1.95"/><circle cx="586.1" cy="503.0" r="1.95"/><circle cx="546.3" cy="513.0" r="1.95"/><circle cx="560.8" cy="524.6" r="1.95"/><circle cx="534.9" cy="494.8" r="1.95"/><circle cx="609.9" cy="535.2" r="1.95"/><circle cx="569.3" cy="506.4" r="1.95"/><circle cx="578.5" cy="511.4" r="1.95"/><circle cx="578.5" cy="502.2" r="1.95"/><circle cx="565.1" cy="491.5" r="1.95"/><circle cx="589.0" cy="527.2" r="1.95"/><circle cx="562.7" cy="561.8" r="1.95"/><circle cx="595.3" cy="549.4" r="1.95"/><circle cx="586.9" cy="553.9" r="1.95"/><circle cx="585.7" cy="498.0" r="1.95"/><circle cx="602.0" cy="503.2" r="1.95"/><circle cx="586.1" cy="507.8" r="1.95"/><circle cx="570.1" cy="509.2" r="1.95"/><circle cx="576.9" cy="518.8" r="1.95"/><circle cx="567.0" cy="510.9" r="1.95"/><circle cx="577.5" cy="504.8" r="1.95"/><circle cx="569.4" cy="518.7" r="1.95"/><circle cx="538.9" cy="503.5" r="1.95"/><circle cx="561.8" cy="500.0" r="1.95"/><circle cx="602.6" cy="501.2" r="1.95"/><circle cx="540.4" cy="521.2" r="1.95"/><circle cx="558.6" cy="541.1" r="1.95"/><circle cx="598.5" cy="503.1" r="1.95"/><circle cx="575.8" cy="494.3" r="1.95"/><circle cx="608.9" cy="528.7" r="1.95"/><circle cx="548.2" cy="466.6" r="1.95"/><circle cx="551.1" cy="513.1" r="1.95"/><circle cx="565.4" cy="560.5" r="1.95"/><circle cx="586.4" cy="504.7" r="1.95"/><circle cx="636.2" cy="560.6" r="1.95"/><circle cx="579.3" cy="533.3" r="1.95"/><circle cx="585.6" cy="540.0" r="1.95"/><circle cx="596.1" cy="522.0" r="1.95"/><circle cx="586.6" cy="556.6" r="1.95"/><circle cx="597.4" cy="547.8" r="1.95"/><circle cx="590.0" cy="515.9" r="1.95"/><circle cx="586.7" cy="513.4" r="1.95"/><circle cx="552.2" cy="497.3" r="1.95"/><circle cx="559.1" cy="481.6" r="1.95"/><circle cx="582.1" cy="523.0" r="1.95"/><circle cx="611.3" cy="497.8" r="1.95"/><circle cx="608.4" cy="528.9" r="1.95"/><circle cx="586.7" cy="528.9" r="1.95"/><circle cx="566.4" cy="521.7" r="1.95"/><circle cx="582.7" cy="519.4" r="1.95"/><circle cx="535.7" cy="530.5" r="1.95"/><circle cx="569.7" cy="548.1" r="1.95"/><circle cx="599.2" cy="501.3" r="1.95"/><circle cx="578.0" cy="506.9" r="1.95"/><circle cx="550.7" cy="541.0" r="1.95"/><circle cx="588.9" cy="491.0" r="1.95"/><circle cx="556.2" cy="525.5" r="1.95"/><circle cx="582.1" cy="534.8" r="1.95"/><circle cx="604.0" cy="530.9" r="1.95"/><circle cx="568.4" cy="527.5" r="1.95"/><circle cx="575.1" cy="526.6" r="1.95"/><circle cx="564.0" cy="523.3" r="1.95"/><circle cx="568.9" cy="537.6" r="1.95"/><circle cx="600.8" cy="517.2" r="1.95"/><circle cx="572.9" cy="505.6" r="1.95"/><circle cx="566.3" cy="519.8" r="1.95"/><circle cx="578.5" cy="512.2" r="1.95"/><circle cx="593.1" cy="518.5" r="1.95"/><circle cx="613.6" cy="523.4" r="1.95"/><circle cx="584.9" cy="504.2" r="1.95"/><circle cx="610.7" cy="550.8" r="1.95"/><circle cx="562.4" cy="537.8" r="1.95"/><circle cx="599.2" cy="514.4" r="1.95"/><circle cx="593.9" cy="522.8" r="1.95"/><circle cx="585.5" cy="472.6" r="1.95"/><circle cx="583.3" cy="509.9" r="1.95"/><circle cx="654.5" cy="504.0" r="1.95"/><circle cx="590.2" cy="519.9" r="1.95"/><circle cx="592.1" cy="489.2" r="1.95"/><circle cx="574.0" cy="511.1" r="1.95"/><circle cx="594.6" cy="530.9" r="1.95"/><circle cx="526.3" cy="537.6" r="1.95"/><circle cx="612.9" cy="494.5" r="1.95"/><circle cx="606.8" cy="518.6" r="1.95"/><circle cx="545.3" cy="551.1" r="1.95"/><circle cx="538.1" cy="531.5" r="1.95"/><circle cx="591.0" cy="500.8" r="1.95"/><circle cx="611.8" cy="514.7" r="1.95"/><circle cx="579.3" cy="488.3" r="1.95"/><circle cx="581.4" cy="501.3" r="1.95"/><circle cx="600.2" cy="510.8" r="1.95"/><circle cx="544.5" cy="515.7" r="1.95"/><circle cx="542.1" cy="526.5" r="1.95"/><circle cx="639.7" cy="522.8" r="1.95"/><circle cx="566.1" cy="525.7" r="1.95"/><circle cx="649.3" cy="538.0" r="1.95"/><circle cx="586.5" cy="520.4" r="1.95"/><circle cx="561.6" cy="558.1" r="1.95"/><circle cx="649.6" cy="521.4" r="1.95"/><circle cx="561.6" cy="505.4" r="1.95"/><circle cx="585.1" cy="534.8" r="1.95"/><circle cx="594.6" cy="528.5" r="1.95"/><circle cx="569.2" cy="477.6" r="1.95"/><circle cx="564.3" cy="477.8" r="1.95"/><circle cx="575.4" cy="508.1" r="1.95"/><circle cx="549.1" cy="515.0" r="1.95"/><circle cx="549.3" cy="538.2" r="1.95"/><circle cx="567.0" cy="524.7" r="1.95"/><circle cx="557.2" cy="525.6" r="1.95"/><circle cx="588.8" cy="525.4" r="1.95"/><circle cx="620.7" cy="533.1" r="1.95"/><circle cx="592.2" cy="505.1" r="1.95"/><circle cx="582.5" cy="523.5" r="1.95"/><circle cx="582.4" cy="511.1" r="1.95"/><circle cx="576.7" cy="491.6" r="1.95"/><circle cx="593.4" cy="506.7" r="1.95"/><circle cx="572.4" cy="541.9" r="1.95"/><circle cx="552.8" cy="504.6" r="1.95"/><circle cx="569.6" cy="546.4" r="1.95"/><circle cx="576.8" cy="509.0" r="1.95"/><circle cx="589.0" cy="514.1" r="1.95"/><circle cx="617.0" cy="546.7" r="1.95"/><circle cx="607.7" cy="496.5" r="1.95"/><circle cx="573.9" cy="513.5" r="1.95"/><circle cx="617.1" cy="508.7" r="1.95"/><circle cx="522.6" cy="525.5" r="1.95"/><circle cx="587.5" cy="502.3" r="1.95"/><circle cx="561.6" cy="544.7" r="1.95"/><circle cx="556.2" cy="524.6" r="1.95"/><circle cx="612.3" cy="506.6" r="1.95"/><circle cx="549.4" cy="509.2" r="1.95"/><circle cx="588.4" cy="471.9" r="1.95"/><circle cx="556.3" cy="509.1" r="1.95"/><circle cx="597.3" cy="487.3" r="1.95"/><circle cx="588.0" cy="525.8" r="1.95"/><circle cx="581.8" cy="521.8" r="1.95"/><circle cx="566.7" cy="539.8" r="1.95"/><circle cx="583.7" cy="536.0" r="1.95"/><circle cx="597.4" cy="519.7" r="1.95"/><circle cx="528.8" cy="471.9" r="1.95"/><circle cx="577.4" cy="522.4" r="1.95"/><circle cx="607.6" cy="528.9" r="1.95"/><circle cx="590.5" cy="518.7" r="1.95"/><circle cx="613.2" cy="517.8" r="1.95"/><circle cx="575.5" cy="526.4" r="1.95"/><circle cx="618.9" cy="530.8" r="1.95"/><circle cx="607.8" cy="515.4" r="1.95"/><circle cx="608.1" cy="551.2" r="1.95"/><circle cx="592.4" cy="509.9" r="1.95"/><circle cx="557.7" cy="503.2" r="1.95"/><circle cx="611.9" cy="509.2" r="1.95"/><circle cx="608.0" cy="513.2" r="1.95"/><circle cx="595.6" cy="532.1" r="1.95"/><circle cx="567.8" cy="496.1" r="1.95"/><circle cx="576.1" cy="532.3" r="1.95"/><circle cx="570.7" cy="552.6" r="1.95"/><circle cx="593.7" cy="503.4" r="1.95"/><circle cx="558.6" cy="531.2" r="1.95"/><circle cx="571.8" cy="535.0" r="1.95"/><circle cx="587.0" cy="547.2" r="1.95"/><circle cx="618.6" cy="530.1" r="1.95"/><circle cx="583.5" cy="539.5" r="1.95"/><circle cx="548.9" cy="559.8" r="1.95"/><circle cx="576.2" cy="549.0" r="1.95"/><circle cx="597.4" cy="523.3" r="1.95"/><circle cx="561.6" cy="512.9" r="1.95"/><circle cx="583.9" cy="530.6" r="1.95"/><circle cx="541.1" cy="543.3" r="1.95"/><circle cx="562.8" cy="474.2" r="1.95"/><circle cx="550.8" cy="538.2" r="1.95"/><circle cx="553.4" cy="522.5" r="1.95"/>
</g>
<rect x="495.38" y="386.86" width="166.62" height="187.34" fill="none" stroke="#000" stroke-width="1.45"/>
<path d="M495.38 574.20h-6M495.38 538.50h-6M495.38 502.80h-6M495.38 467.10h-6M495.38 431.40h-6M495.38 395.70h-6M509.30 574.2v6M558.60 574.2v6M607.90 574.2v6M657.20 574.2v6" stroke="#000" stroke-width="1.45" fill="none"/>
<path d="M495.38 556.35h-3.6M495.38 520.65h-3.6M495.38 484.95h-3.6M495.38 449.25h-3.6M495.38 413.55h-3.6M533.95 574.2v3.6M583.25 574.2v3.6M632.55 574.2v3.6" stroke="#000" stroke-width="1.1" fill="none"/>
<text id="by2AM" x="83.33" y="580.50" font-size="17.3" text-anchor="end" textLength="36.29" lengthAdjust="spacingAndGlyphs" stroke="#000" stroke-width="0.25">2AM</text>
<text id="by4AM" x="83.29" y="544.80" font-size="17.3" text-anchor="end" textLength="36.41" lengthAdjust="spacingAndGlyphs" stroke="#000" stroke-width="0.25">4AM</text>
<text id="by6AM" x="83.34" y="509.10" font-size="17.3" text-anchor="end" textLength="36.49" lengthAdjust="spacingAndGlyphs" stroke="#000" stroke-width="0.25">6AM</text>
<text id="by8AM" x="83.19" y="473.40" font-size="17.3" text-anchor="end" textLength="36.27" lengthAdjust="spacingAndGlyphs" stroke="#000" stroke-width="0.25">8AM</text>
<text id="by10AM" x="83.32" y="437.70" font-size="17.3" text-anchor="end" textLength="47.13" lengthAdjust="spacingAndGlyphs" stroke="#000" stroke-width="0.25">10AM</text>
<text id="by12PM" x="83.26" y="402.00" font-size="17.3" text-anchor="end" textLength="45.66" lengthAdjust="spacingAndGlyphs" stroke="#000" stroke-width="0.25">12PM</text>
<text id="b12AM" x="145.46" y="598.90" font-size="17.3" text-anchor="middle" textLength="47.26" lengthAdjust="spacingAndGlyphs" stroke="#000" stroke-width="0.25">12AM</text>
<text id="b4AM" x="205.82" y="598.90" font-size="17.3" text-anchor="middle" textLength="36.43" lengthAdjust="spacingAndGlyphs" stroke="#000" stroke-width="0.25">4AM</text>
<text id="b8AM" x="325.67" y="598.90" font-size="17.3" text-anchor="middle" textLength="36.44" lengthAdjust="spacingAndGlyphs" stroke="#000" stroke-width="0.25">8AM</text>
<text id="b12PM" x="384.23" y="598.90" font-size="17.3" text-anchor="middle" textLength="45.68" lengthAdjust="spacingAndGlyphs" stroke="#000" stroke-width="0.25">12PM</text>
<text id="b4PM" x="443.74" y="598.90" font-size="17.3" text-anchor="middle" textLength="34.84" lengthAdjust="spacingAndGlyphs" stroke="#000" stroke-width="0.25">4PM</text>
<text id="b6" x="509.18" y="598.90" font-size="17.3" text-anchor="middle" textLength="10.34" lengthAdjust="spacingAndGlyphs" stroke="#000" stroke-width="0.25">6</text>
<text id="b8" x="558.69" y="598.90" font-size="17.3" text-anchor="middle" textLength="10.04" lengthAdjust="spacingAndGlyphs" stroke="#000" stroke-width="0.25">8</text>
<text id="b10" x="607.64" y="598.90" font-size="17.3" text-anchor="middle" textLength="20.46" lengthAdjust="spacingAndGlyphs" stroke="#000" stroke-width="0.25">10</text>
<text id="b12" x="656.95" y="598.90" font-size="17.3" text-anchor="middle" textLength="20.14" lengthAdjust="spacingAndGlyphs" stroke="#000" stroke-width="0.25">12</text>
<text id="byl" x="26.00" y="480.49" font-size="17.6" text-anchor="middle" textLength="125.91" lengthAdjust="spacingAndGlyphs" stroke="#000" stroke-width="0.1" transform="rotate(-90 26.00 480.49)">sleep midpoint</text>
<text id="bx1" x="178.65" y="620.70" font-size="15.8" text-anchor="middle" textLength="134.85" lengthAdjust="spacingAndGlyphs" stroke="#000" stroke-width="0.1">sleep period start</text>
<text id="bx2" x="378.91" y="620.70" font-size="15.8" text-anchor="middle" textLength="127.76" lengthAdjust="spacingAndGlyphs" stroke="#000" stroke-width="0.1">sleep period end</text>
<text id="bx3" x="578.83" y="620.70" font-size="15.8" text-anchor="middle" textLength="204.14" lengthAdjust="spacingAndGlyphs" stroke="#000" stroke-width="0.1">sleep period duration (hrs)</text>
</svg>
</body></html>
